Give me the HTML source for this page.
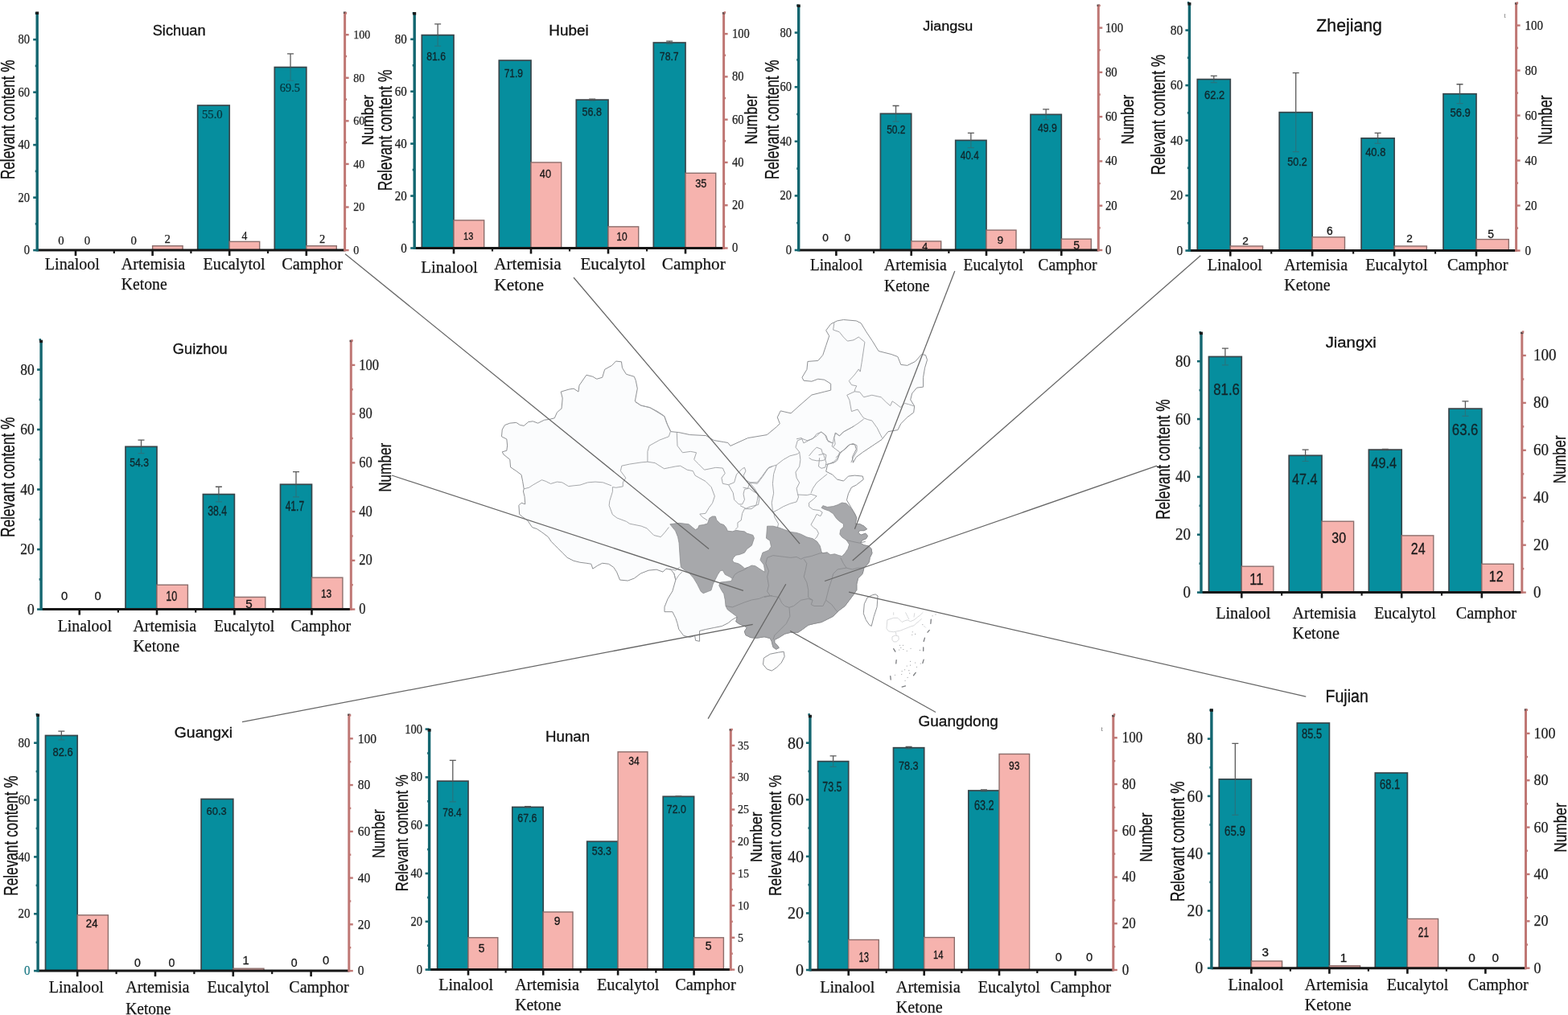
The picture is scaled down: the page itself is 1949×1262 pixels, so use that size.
<!DOCTYPE html><html><head><meta charset="utf-8"><title>Chemotypes of Artemisia argyi across China</title>
<style>html,body{margin:0;padding:0;background:#fff;}svg{display:block;}</style></head><body>
<svg width="1949" height="1262" viewBox="0 0 1949 1262">
<rect width="1949" height="1262" fill="#ffffff"/>
<polygon points="699.16,495.01 697.18,487.09 707.09,484.12 713.03,483.12 718.98,487.09 719.97,479.16 728.88,466.28 736.81,468.26 741.76,471.24 748.7,469.26 751.67,459.35 760.58,454.39 765.54,449.04 772.47,449.84 773.46,457.37 778.42,465.29 788.32,468.26 790.31,473.22 792.29,483.12 789.31,498.98 796.25,503.93 808.14,506.9 818.04,512.85 825.97,517.8 829.93,528.7 833.9,536.62 843.8,537.61 857.67,540.58 877.49,541.58 887.39,547.52 899.28,549.5 904.86,550.49 907.83,554.45 929.63,544.55 953.4,540.58 965.29,530.68 969.26,526.71 966.28,518.79 970.25,510.86 983.12,513.84 993.03,504.92 1008.88,491.05 1024.73,487.09 1032.66,485.11 1032.66,477.18 1024.73,472.23 1016.81,471.24 1008.88,474.21 998.98,473.22 996.99,469.26 1002.94,459.35 1003.93,449.44 1016.81,448.45 1022.75,441.52 1026.71,429.63 1030.68,417.74 1026.71,410.8 1032.66,402.88 1040.58,398.92 1048.51,397.53 1064.36,398.92 1070.31,401.89 1076.25,411.8 1084.17,423.68 1092.1,436.56 1100.03,438.54 1107.95,440.53 1115.88,443.5 1119.84,453.4 1127.77,454.39 1137.67,449.44 1145.6,440.53 1150.55,441.52 1152.53,447.46 1149.56,457.37 1147.58,469.26 1147.58,481.14 1139.65,482.13 1133.71,489.07 1131.73,496.99 1136.68,504.92 1135.69,512.85 1127.77,518.79 1119.84,526.71 1115.88,534.64 1103.99,536.62 1096.06,546.53 1084.17,554.45 1072.29,562.38 1064.36,568.32 1060.4,575.26 1059.41,568.32 1064.36,558.42 1062.38,552.47 1056.44,552.47 1050.49,558.42 1044.55,562.38 1040.58,572.29 1036.62,575.26 1028.7,577.24 1026.71,586.16 1034.64,590.12 1040.58,596.06 1048.51,598.04 1054.45,592.1 1062.38,591.11 1072.29,592.1 1073.28,596.06 1064.36,603 1058.42,605.97 1054.45,613.9 1052.47,621.82 1058.42,631.73 1063.37,640.05 1064.82,644.16 1062.99,651.45 1068.46,651.45 1073.93,654.18 1077.57,657.83 1073.93,659.65 1068.46,659.65 1066.64,662.38 1070.28,665.12 1075.75,663.3 1078.49,666.03 1076.66,669.67 1072.11,671.5 1069.37,675.14 1073.93,677.88 1079.4,678.79 1083.04,682.43 1083.95,687.9 1081.22,693.37 1080.31,698.83 1077.57,702.48 1073.93,706.12 1072.11,713.41 1066.64,718.88 1064.82,726.17 1064.82,733.46 1061.17,738.93 1055.7,746.22 1050.24,753.51 1042.95,758.98 1035.66,766.27 1028.37,769.91 1021.08,773.56 1011.96,775.38 1004.67,777.2 997.38,782.67 991.92,786.31 982.8,786.31 975.51,788.14 968.22,792.69 962.76,795.43 962.76,799.07 966.4,802.72 968.22,805.45 964.58,807.27 960.93,804.54 959.11,797.25 957.29,793.6 950,791.78 940.43,793.33 932.9,792.58 926.88,789.57 925.37,785.05 928.38,780.53 925.37,778.28 919.35,776.02 914.84,773.01 916.34,766.99 909.98,770.58 905.22,774.55 897.3,778.51 887.39,780.49 877.49,782.47 869.56,784.45 869.56,797.33 864.61,796.34 863.62,790.4 857.67,792.38 849.75,790.4 843.8,782.47 841.82,774.55 839.84,768.6 835.88,760.68 825.97,760.68 825.97,754.73 829.93,744.83 835.88,734.92 839.84,721.05 837.86,713.12 833.9,708.17 827.95,707.18 823.99,711.14 816.06,708.17 806.16,709.16 796.25,713.12 788.32,719.07 780.4,722.04 770.49,721.05 766.53,711.14 762.57,705.2 756.62,701.24 748.7,700.25 742.75,703.22 736.81,707.18 734.83,701.24 728.88,700.25 720.96,699.26 713.03,697.27 705.11,693.31 699.16,687.37 693.22,681.42 689.26,677.46 685.29,673.5 681.33,667.55 673.4,661.61 667.46,657.65 661.52,655.66 655.98,647.46 649.64,642.7 645.67,639.53 644.88,628.43 648.05,625.26 652.81,626.84 652.02,617.33 650.43,610.99 651.22,607.82 649.64,598.3 648.05,590.38 641.71,585.62 634.58,580.86 633.78,571.35 625.86,565.01 624.27,561.84 629.82,560.25 630.61,553.91 629.82,545.98 623.48,542.81 624.27,534.09 627.44,528.54 633.78,526.16 641.71,525.37 646.47,528.54 651.22,529.33 656.77,524.58 662.32,523.78 668.66,526.16 676.59,522.2 682.93,521.4 689.28,519.82 692.45,512.68 698,507.93 698.79,500" fill="#fbfcfd" stroke="#8f9194" stroke-width="1" stroke-linejoin="round"/>
<path d="M651.22 607.82 L657.57 606.23 L662.32 603.06 L673.42 596.72 L678.18 598.3 L684.52 601.47 L692.45 599.1 L698.79 599.89 L706.72 604.65 L713.06 603.85 L720.99 603.06 L730.5 599.89 L740.01 599.1 L749.53 599.89 L759.99 603.85 M789.94 500 L797.07 504.28 L807.06 506.42 L817.04 511.41 L825.6 517.12 L828.46 525.68 L833.45 536.38 L831.31 542.8 L819.9 547.08 L807.06 554.22 L804.92 561.35 L804.92 574.19 M761.4 605.58 L765.68 606.29 L774.24 604.87 L774.24 599.87 L777.81 594.16 L771.39 585.6 L772.81 579.18 L782.8 577.04 L797.07 574.9 L804.92 574.19 M761.4 605.58 L761.4 611.29 L757.83 622.7 L757.12 628.41 L761.4 639.82 L767.11 644.1 L778.52 648.38 L782.8 651.23 L797.07 654.09 L804.2 656.94 L812.76 665.5 L821.32 667.64 L827.03 661.22 L831.31 655.51 M804.92 574.19 L814.19 575.62 L825.6 582.75 L832.74 581.32 L839.87 579.9 L845.58 579.18 L854.14 584.18 L861.27 585.6 L864.13 591.31 L876.97 598.44 L884.1 605.58 L888.38 616.99 L885.53 625.55 L881.25 631.26 L876.97 638.39 L869.83 639.11 L872.69 642.67 L879.11 646.95 M841.3 537.81 L842.01 554.22 L848.43 562.78 L858.42 561.35 L865.55 562.78 L862.7 571.34 L868.41 577.04 L875.54 584.18 L889.81 581.32 L898.37 582.04 L901.22 588.46 L896.94 594.16 L898.37 601.3 L905.5 602.73 L912.64 599.87 L915.49 589.88 L922.62 582.75 L925.48 581.32 L926.9 585.6 L924.05 591.31 L926.9 597.02 L932.61 599.87 L941.17 599.87 L946.88 592.74 L954.01 582.75 L960 579.9 M905.5 602.73 L911.21 612.71 L912.64 621.27 L918.34 626.98 L922.62 626.98 L925.48 621.27 L924.05 614.14 L925.48 608.43 L931.18 607.01 L936.89 611.29 L942.6 614.14 L941.17 622.7 L939.74 628.41 L934.04 632.69 L925.48 632.69 L922.62 638.39 L921.2 646.95 L916.92 649.81 L916.92 655.51 L914.06 658.37 M931.89 600.15 L941.4 601.34 L948.53 591.82 L955.67 581.12 L965.18 578.15 L973.5 571.61 L981.82 566.86 L991.34 564.48 L993.71 562.1 L988.96 556.16 L991.34 547.83 L997.28 545.46 L1003.22 547.83 L1010.36 545.46 L1015.11 539.51 L1021.06 537.13 L1027 541.89 L1029.38 549.02 L1035.33 550.81 L1036.51 544.27 L1038.89 538.32 L1043.65 541.89 L1048.4 537.13 L1054.35 533.57 L1061.48 530 M965.18 578.15 L961.61 589.45 L960.42 601.34 L961.61 613.22 L959.23 625.11 L960.42 634.62 L961.61 637 M993.71 562.1 L994.9 571.61 L993.71 579.93 L988.96 587.07 L990.15 594.2 L993.71 600.15 L990.15 607.28 L991.34 613.22 L992.52 617.98 L990.15 623.92 L981.82 626.3 L973.5 629.87 L967.56 633.44 L961.61 636.41 M991.34 615.01 L1003.22 615.6 L1007.98 614.41 L1015.11 616.79 L1011.55 620.36 L1005.6 625.11 L1005.6 629.87 L1010.36 633.44 L1018.68 634.62 M1007.98 613.22 L1010.36 607.28 L1015.11 600.15 L1022.25 594.2 L1028.19 589.45 M1005.6 566.86 L1010.36 560.91 L1015.11 556.16 L1021.06 558.53 L1022.25 563.29 L1027 565.67 L1025.81 571.61 L1021.06 572.8 L1015.11 572.8 L1009.17 571.61 L1005.6 569.23 M1017.49 565.67 L1023.44 564.48 L1027 575.18 L1025.81 581.12 L1021.06 582.31 L1017.49 579.93 L1018.68 569.23 M1035.33 550.81 L1034.14 554.97 L1038.89 558.53 L1043.65 562.1 L1041.27 569.23 L1036.51 573.99 L1031.76 576.37 L1027 577.56 M961.61 636.41 L962.8 642.95 L967.56 651.27 L966.37 656.03 M1018.68 634.62 L1022.25 637 L1019.87 641.76 L1015.11 639.38 L1012.74 644.14 L1007.98 652.46 L1011.55 656.03 L1015.11 658.4 L1017.49 663.16 L1015.11 667.91 L1012.74 670.29 M923.57 606.09 L929.51 607.28 L931.89 600.15 M920 628.68 L927.13 632.25 L933.08 629.87 L942.59 627.49 L943.78 620.36 L941.4 613.22 L937.83 607.28 L931.89 600.15 M1057.91 575.18 L1060.29 569.23 L1065.05 560.91 L1065.05 553.78 L1060.29 551.4 L1054.35 553.78 L1048.4 559.72 L1044.84 563.29 L1038.89 569.23 M1036.9 401.27 L1035.63 410.14 L1043.24 412.68 L1048.31 419.01 L1053.38 424.08 L1060.98 422.82 L1067.32 419.01 L1074.93 425.35 L1073.03 438.03 L1071.13 450.7 L1069.22 462.11 L1067.32 458.94 L1062.25 465.91 L1055.28 473.52 L1058.45 478.59 L1064.79 479.86 L1062.89 483.66 L1062.25 486.83 M1062.25 486.83 L1068.59 487.46 L1073.66 493.8 L1083.8 491.27 L1095.21 493.8 L1101.55 500.14 L1106.62 504.58 L1109.15 498.87 L1112.96 501.41 L1119.29 506.48 L1124.36 501.41 L1129.43 502.67 L1137.04 505.21 M1062.25 486.83 L1052.75 491.27 L1055.91 497.6 L1058.45 511.55 L1066.06 509.01 L1071.13 516.62 L1073.66 519.79 L1078.73 521.69 L1083.8 522.96 L1090.14 531.83 L1096.48 544.51 M1073.66 521.05 L1066.06 526.76 L1055.91 533.1 L1048.31 536.9 L1043.24 541.97 L1038.17 538.17 L1036.9 544.51 L1038.17 552.11 L1035.63 555.91 M990 545.77 L996.34 544.51 L998.87 550.84 L1009.01 545.77 L1015.35 541.97 L1020.42 536.9 L1025.49 540.7 L1028.03 547.04 L1034.37 550.84 M844.79 705.2 L839.84 709.16 L835.88 708.17 L827.95 707.18 M837.86 713.12 L839.84 721.05 L843.8 715.11 L847.77 711.14" fill="none" stroke="#9c9ea1" stroke-width="0.9" stroke-linejoin="round"/>
<polygon points="832.8,651.83 838.06,651.07 844.09,650.32 850.11,651.07 856.13,651.83 860.64,655.59 864.41,658.6 867.42,657.1 868.92,653.33 874.19,652.58 879.46,651.07 881.72,644.3 885.48,642.04 889.25,642.04 890.75,646.56 895.27,651.07 899.78,652.58 902.79,656.34 904.3,660.11 910.32,660.86 914.84,659.35 919.35,660.11 925.37,660.86 928.38,663.12 935.91,665.38 937.42,669.14 935.91,673.65 934.41,678.17 928.38,682.69 925.37,687.2 919.35,689.46 914.84,690.21 911.83,693.22 910.32,696.24 911.83,699.25 917.85,700.75 922.36,703.76 925.37,706.77 929.89,705.27 934.41,703.01 938.92,703.76 943.44,706.77 947.95,709.78 950.96,711.29 949.46,702.26 944.94,696.24 947.95,687.2 955.48,684.19 958.49,679.68 956.99,672.15 952.47,669.14 953.64,654.18 960.93,654.18 968.22,656.01 975.51,658.74 982.8,661.47 990.09,662.38 995.56,664.21 1002.85,667.85 1010.14,669.67 1015.61,673.32 1019.25,678.79 1021.08,686.08 1022.9,687.9 1028.37,686.99 1032.01,689.72 1037.48,688.81 1042.95,690.63 1046.59,691.54 1050.24,687.9 1053.88,682.43 1055.7,676.96 1052.06,671.5 1046.59,667.85 1043.86,664.21 1044.77,658.74 1048.41,655.09 1048.41,651.45 1042.95,647.8 1039.3,644.16 1035.66,638.69 1030.19,635.05 1024.72,633.22 1021.08,631.4 1022.9,628.67 1028.37,630.49 1035.66,629.58 1041.12,627.76 1046.59,625.02 1052.06,625.93 1057.53,631.4 1061.17,636.87 1064.82,644.16 1062.99,651.45 1068.46,651.45 1073.93,654.18 1077.57,657.83 1073.93,659.65 1068.46,659.65 1066.64,662.38 1070.28,665.12 1075.75,663.3 1078.49,666.03 1076.66,669.67 1072.11,671.5 1069.37,675.14 1073.93,677.88 1079.4,678.79 1083.04,682.43 1083.95,687.9 1081.22,693.37 1080.31,698.83 1077.57,702.48 1073.93,706.12 1072.11,713.41 1066.64,718.88 1064.82,726.17 1064.82,733.46 1061.17,738.93 1055.7,746.22 1050.24,753.51 1042.95,758.98 1035.66,766.27 1028.37,769.91 1021.08,773.56 1011.96,775.38 1004.67,777.2 997.38,782.67 991.92,786.31 982.8,786.31 975.51,788.14 968.22,792.69 962.76,795.43 962.76,799.07 966.4,802.72 968.22,805.45 964.58,807.27 960.93,804.54 959.11,797.25 957.29,793.6 950,791.78 940.43,793.33 932.9,792.58 926.88,789.57 925.37,785.05 928.38,780.53 925.37,778.28 919.35,776.02 914.84,773.01 916.34,766.99 910.32,762.47 904.3,757.95 902.04,753.44 901.29,745.91 899.78,738.38 896.77,733.87 893.76,727.85 895.27,724.08 901.29,723.33 908.82,722.58 910.32,719.57 907.31,717.31 901.29,714.3 898.28,709.03 895.27,709.78 892.26,714.3 889.25,720.32 886.24,726.34 883.98,733.87 880.21,735.37 874.19,737.63 871.18,735.37 866.67,726.34 862.15,718.82 856.13,712.04 850.11,708.28 846.34,705.27 845.59,697.74 844.84,687.2 844.09,675.16 842.58,667.63 839.57,660.11" fill="#a7a8ab" stroke="#8a8b8e" stroke-width="0.8" stroke-linejoin="round"/>
<path d="M953.64 693.37 L960.93 690.63 L968.22 691.54 L975.51 692.46 L982.8 693.37 L990.09 692.46 L995.56 695.19 L999.21 693.37 M999.21 693.37 L1008.32 691.54 L1019.25 687.9 L1028.37 686.99 M999.21 695.19 L1002.85 700.66 L1001.03 709.77 L999.21 717.06 L1002.85 724.35 L1004.67 733.46 L1004.67 742.57 L1010.14 746.22 L1008.32 751.69 L1011.96 753.51 L1022.9 753.51 L1026.54 746.22 M1044.77 693.37 L1048.41 700.66 L1052.06 706.12 L1041.12 707.95 L1035.66 713.41 L1033.83 720.7 L1030.19 731.64 L1028.37 738.93 L1026.54 746.22 M1052.06 706.12 L1059.35 707.95 L1066.64 706.12 L1073.93 706.12 M1052.06 671.5 L1059.35 673.32 L1068.46 675.14 L1075.75 673.32 M1026.54 746.22 L1033.83 751.69 L1039.3 758.98 L1041.12 760.8 M980.98 755.33 L986.45 753.51 L995.56 746.22 L1004.67 744.4 L1010.14 746.22 M980.98 755.33 L981.89 766.27 L977.34 775.38 L970.05 782.67 L962.76 789.96 L960.93 795.43 M980.98 755.33 L975.51 753.51 L971.87 749.86 L968.22 742.57 L957.29 740.75 L950 742.57 M953.64 693.37 L951.82 700.66 L955.47 709.77 L953.64 717.06 L955.47 727.99 L953.64 735.28 L957.29 740.75 M910.32 719.57 L913.33 714.3 L917.85 711.29 L925.37 708.28 L929.89 705.27 M902.04 753.44 L910.32 754.94 L917.85 751.93 L925.37 748.92 L934.41 745.91 L943.44 744.41 L950.96 741.4 L960 740.64" fill="none" stroke="#8a8b8e" stroke-width="0.9" stroke-linejoin="round"/>
<polygon points="1088.1,738.9 1091.1,740.9 1090.1,754.7 1086.2,766.6 1083.2,778.5 1080.2,776.5 1076.3,770.6 1073.3,762.7 1074.3,750.8 1078.2,742.8 1084.2,739.9" fill="#fdfdfd" stroke="#8f9194" stroke-width="1"/>
<polygon points="949.4,818.1 957.4,813.2 967.3,811.2 974.2,810.2 975.2,816.2 971.2,824.1 965.3,830 959.3,834 953.4,832 948.5,826.1" fill="#fdfdfd" stroke="#8f9194" stroke-width="1"/>
<path d="M1102.84 770.92 L1110.69 768.3 L1115.92 768.3 L1118.53 770.92 L1121.14 773.53 L1124.63 771.79 L1128.12 770.92 L1131.6 772.66 L1135.96 770.92 L1140.32 767.43 L1143.8 764.81 L1147.29 761.33 M1102.84 770.92 L1101.97 781.37 L1104.59 784.86 L1110.69 785.73 L1115.04 784.86 L1119.4 783.99 L1123.76 782.24 L1128.12 780.5 L1132.47 778.76 L1135.96 777.89 L1138.57 775.27 L1142.06 772.66 L1145.54 769.17 M1108.94 791.83 L1112.43 790.09 L1116.79 790.96 L1117.22 795.32 L1114.17 797.93 L1110.69 797.93 L1108.94 795.32 L1108.94 791.83 M1113.3 785.73 L1114.17 790.09 M1110.69 761.33 L1110.69 764.81 M1125.5 761.33 L1128.12 766.56 L1129.86 770.04 M1136.83 762.2 L1135.96 767.43 M1148.16 777.89 L1150.77 780.5" fill="none" stroke="#d4d5d7" stroke-width="0.9" stroke-linejoin="round"/>
<path d="M1157.31 770.04 L1156.87 775.27 M1155.13 783.55 L1152.95 786.17 M1149.47 793.14 L1148.16 797.49 M1147.72 804.9 L1147.72 809.26 M1148.16 820.15 L1146.85 824.51 M1138.14 836.27 L1135.52 839.76 M1125.5 852.83 L1121.14 854.14 M1110.69 806.64 L1112.86 810.13 M1114.17 820.59 L1113.74 824.95 M1106.76 840.63 L1107.2 844.99" fill="none" stroke="#7b7d80" stroke-width="1.3" stroke-linecap="round"/>
<circle cx="1134.22" cy="785.73" r="0.55" fill="#8d8f92"/>
<circle cx="1137.7" cy="788.34" r="0.55" fill="#8d8f92"/>
<circle cx="1133.78" cy="789.22" r="0.55" fill="#8d8f92"/>
<circle cx="1118.53" cy="802.29" r="0.55" fill="#8d8f92"/>
<circle cx="1122.45" cy="802.29" r="0.55" fill="#8d8f92"/>
<circle cx="1119.84" cy="805.34" r="0.55" fill="#8d8f92"/>
<circle cx="1117.66" cy="807.95" r="0.55" fill="#8d8f92"/>
<circle cx="1122.89" cy="807.52" r="0.55" fill="#8d8f92"/>
<circle cx="1127.24" cy="809.26" r="0.55" fill="#8d8f92"/>
<circle cx="1132.04" cy="806.21" r="0.55" fill="#8d8f92"/>
<circle cx="1143.37" cy="808.39" r="0.55" fill="#8d8f92"/>
<circle cx="1146.85" cy="776.58" r="0.55" fill="#8d8f92"/>
<circle cx="1131.6" cy="822.33" r="0.55" fill="#8d8f92"/>
<circle cx="1137.7" cy="824.07" r="0.55" fill="#8d8f92"/>
<circle cx="1144.24" cy="824.95" r="0.55" fill="#8d8f92"/>
<circle cx="1127.24" cy="828" r="0.55" fill="#8d8f92"/>
<circle cx="1131.6" cy="827.12" r="0.55" fill="#8d8f92"/>
<circle cx="1139.44" cy="829.3" r="0.55" fill="#8d8f92"/>
<circle cx="1121.14" cy="834.53" r="0.55" fill="#8d8f92"/>
<circle cx="1124.63" cy="832.79" r="0.55" fill="#8d8f92"/>
<circle cx="1129.86" cy="833.66" r="0.55" fill="#8d8f92"/>
<circle cx="1120.71" cy="838.45" r="0.55" fill="#8d8f92"/>
<circle cx="1130.73" cy="837.15" r="0.55" fill="#8d8f92"/>
<circle cx="1112.43" cy="839.32" r="0.55" fill="#8d8f92"/>
<circle cx="1128.12" cy="842.37" r="0.55" fill="#8d8f92"/>
<circle cx="1125.07" cy="846.3" r="0.55" fill="#8d8f92"/>
<circle cx="1162.97" cy="763.94" r="0.55" fill="#8d8f92"/>
<circle cx="1159.05" cy="765.69" r="0.55" fill="#8d8f92"/>
<text x="1869.3" y="22" font-family="'Liberation Serif', 'Times New Roman', serif" font-size="9" fill="#777">t</text>
<text x="1368.5" y="909" font-family="'Liberation Serif', 'Times New Roman', serif" font-size="9" fill="#777">t</text>
<g>
<rect x="189.6" y="305.74" width="37.5" height="5.36" fill="#f6b3ae" stroke="#8c6e6c" stroke-width="1.4"/>
<rect x="245.7" y="131.04" width="39.5" height="180.06" fill="#068e9e" stroke="#38454a" stroke-width="1.7"/>
<rect x="285.2" y="300.38" width="37.5" height="10.72" fill="#f6b3ae" stroke="#8c6e6c" stroke-width="1.4"/>
<rect x="341.3" y="83.57" width="39.5" height="227.53" fill="#068e9e" stroke="#38454a" stroke-width="1.7"/>
<rect x="380.8" y="305.74" width="37.5" height="5.36" fill="#f6b3ae" stroke="#8c6e6c" stroke-width="1.4"/>
<path d="M361.05 66.88V83.57M357.05 66.88H365.05" stroke="#5a5a5a" stroke-width="1.3" fill="none"/>
<path d="M361.05 83.57V100.27M357.05 100.27H365.05" stroke="#4d5658" stroke-width="1.2" fill="none" opacity="0.45"/>
<line x1="46.2" y1="311.1" x2="428.6" y2="311.1" stroke="#161616" stroke-width="3"/>
<line x1="94" y1="311.1" x2="94" y2="318.1" stroke="#161616" stroke-width="2.6"/>
<line x1="189.6" y1="311.1" x2="189.6" y2="318.1" stroke="#161616" stroke-width="2.6"/>
<line x1="285.2" y1="311.1" x2="285.2" y2="318.1" stroke="#161616" stroke-width="2.6"/>
<line x1="380.8" y1="311.1" x2="380.8" y2="318.1" stroke="#161616" stroke-width="2.6"/>
<line x1="141.8" y1="311.1" x2="141.8" y2="315.1" stroke="#161616" stroke-width="2.2"/>
<line x1="237.4" y1="311.1" x2="237.4" y2="315.1" stroke="#161616" stroke-width="2.2"/>
<line x1="333" y1="311.1" x2="333" y2="315.1" stroke="#161616" stroke-width="2.2"/>
<line x1="46.2" y1="15" x2="46.2" y2="312.6" stroke="#136670" stroke-width="3.4"/>
<line x1="41.2" y1="311.1" x2="46.2" y2="311.1" stroke="#136670" stroke-width="2.6"/>
<text x="37.1" y="316.04" font-family="'Liberation Serif', 'Times New Roman', serif" font-size="15.95" fill="#1c1c1c" text-anchor="end" textLength="7.25" lengthAdjust="spacingAndGlyphs" stroke="#1c1c1c" stroke-width="0.25">0</text>
<line x1="43.7" y1="278.36" x2="46.2" y2="278.36" stroke="#136670" stroke-width="2.6"/>
<line x1="41.2" y1="245.62" x2="46.2" y2="245.62" stroke="#136670" stroke-width="2.6"/>
<text x="37.1" y="250.57" font-family="'Liberation Serif', 'Times New Roman', serif" font-size="15.95" fill="#1c1c1c" text-anchor="end" textLength="14.5" lengthAdjust="spacingAndGlyphs" stroke="#1c1c1c" stroke-width="0.25">20</text>
<line x1="43.7" y1="212.89" x2="46.2" y2="212.89" stroke="#136670" stroke-width="2.6"/>
<line x1="41.2" y1="180.15" x2="46.2" y2="180.15" stroke="#136670" stroke-width="2.6"/>
<text x="37.1" y="185.09" font-family="'Liberation Serif', 'Times New Roman', serif" font-size="15.95" fill="#1c1c1c" text-anchor="end" textLength="14.5" lengthAdjust="spacingAndGlyphs" stroke="#1c1c1c" stroke-width="0.25">40</text>
<line x1="43.7" y1="147.41" x2="46.2" y2="147.41" stroke="#136670" stroke-width="2.6"/>
<line x1="41.2" y1="114.67" x2="46.2" y2="114.67" stroke="#136670" stroke-width="2.6"/>
<text x="37.1" y="119.62" font-family="'Liberation Serif', 'Times New Roman', serif" font-size="15.95" fill="#1c1c1c" text-anchor="end" textLength="14.5" lengthAdjust="spacingAndGlyphs" stroke="#1c1c1c" stroke-width="0.25">60</text>
<line x1="43.7" y1="81.94" x2="46.2" y2="81.94" stroke="#136670" stroke-width="2.6"/>
<line x1="41.2" y1="49.2" x2="46.2" y2="49.2" stroke="#136670" stroke-width="2.6"/>
<text x="37.1" y="54.14" font-family="'Liberation Serif', 'Times New Roman', serif" font-size="15.95" fill="#1c1c1c" text-anchor="end" textLength="14.5" lengthAdjust="spacingAndGlyphs" stroke="#1c1c1c" stroke-width="0.25">80</text>
<line x1="43.7" y1="16.46" x2="46.2" y2="16.46" stroke="#136670" stroke-width="2.6"/>
<rect x="44.2" y="14.5" width="4" height="3.5" fill="#1a1a1a"/>
<line x1="428.6" y1="15" x2="428.6" y2="312.6" stroke="#bf7774" stroke-width="3"/>
<rect x="426.9" y="14.5" width="3.4" height="2.5" fill="#5a4a4a"/>
<line x1="428.6" y1="311.1" x2="433.6" y2="311.1" stroke="#bf7774" stroke-width="2.4"/>
<text x="439.3" y="315.87" font-family="'Liberation Serif', 'Times New Roman', serif" font-size="15.4" fill="#1c1c1c" text-anchor="start" textLength="7" lengthAdjust="spacingAndGlyphs" stroke="#1c1c1c" stroke-width="0.25">0</text>
<line x1="428.6" y1="284.31" x2="431.1" y2="284.31" stroke="#bf7774" stroke-width="2.4"/>
<line x1="428.6" y1="257.52" x2="433.6" y2="257.52" stroke="#bf7774" stroke-width="2.4"/>
<text x="439.3" y="262.29" font-family="'Liberation Serif', 'Times New Roman', serif" font-size="15.4" fill="#1c1c1c" text-anchor="start" textLength="14" lengthAdjust="spacingAndGlyphs" stroke="#1c1c1c" stroke-width="0.25">20</text>
<line x1="428.6" y1="230.73" x2="431.1" y2="230.73" stroke="#bf7774" stroke-width="2.4"/>
<line x1="428.6" y1="203.94" x2="433.6" y2="203.94" stroke="#bf7774" stroke-width="2.4"/>
<text x="439.3" y="208.71" font-family="'Liberation Serif', 'Times New Roman', serif" font-size="15.4" fill="#1c1c1c" text-anchor="start" textLength="14" lengthAdjust="spacingAndGlyphs" stroke="#1c1c1c" stroke-width="0.25">40</text>
<line x1="428.6" y1="177.15" x2="431.1" y2="177.15" stroke="#bf7774" stroke-width="2.4"/>
<line x1="428.6" y1="150.36" x2="433.6" y2="150.36" stroke="#bf7774" stroke-width="2.4"/>
<text x="439.3" y="155.13" font-family="'Liberation Serif', 'Times New Roman', serif" font-size="15.4" fill="#1c1c1c" text-anchor="start" textLength="14" lengthAdjust="spacingAndGlyphs" stroke="#1c1c1c" stroke-width="0.25">60</text>
<line x1="428.6" y1="123.57" x2="431.1" y2="123.57" stroke="#bf7774" stroke-width="2.4"/>
<line x1="428.6" y1="96.78" x2="433.6" y2="96.78" stroke="#bf7774" stroke-width="2.4"/>
<text x="439.3" y="101.55" font-family="'Liberation Serif', 'Times New Roman', serif" font-size="15.4" fill="#1c1c1c" text-anchor="start" textLength="14" lengthAdjust="spacingAndGlyphs" stroke="#1c1c1c" stroke-width="0.25">80</text>
<line x1="428.6" y1="69.99" x2="431.1" y2="69.99" stroke="#bf7774" stroke-width="2.4"/>
<line x1="428.6" y1="43.2" x2="433.6" y2="43.2" stroke="#bf7774" stroke-width="2.4"/>
<text x="439.3" y="47.97" font-family="'Liberation Serif', 'Times New Roman', serif" font-size="15.4" fill="#1c1c1c" text-anchor="start" textLength="21" lengthAdjust="spacingAndGlyphs" stroke="#1c1c1c" stroke-width="0.25">100</text>
<line x1="428.6" y1="16.41" x2="431.1" y2="16.41" stroke="#bf7774" stroke-width="2.4"/>
<text x="55.85" y="335.3" font-family="'Liberation Serif', 'Times New Roman', serif" font-size="21.6" fill="#141414" textLength="68.1" lengthAdjust="spacingAndGlyphs" stroke="#141414" stroke-width="0.25">Linalool</text>
<text x="150.75" y="335.3" font-family="'Liberation Serif', 'Times New Roman', serif" font-size="21.6" fill="#141414" textLength="79.5" lengthAdjust="spacingAndGlyphs" stroke="#141414" stroke-width="0.25">Artemisia</text>
<text x="150.75" y="359.7" font-family="'Liberation Serif', 'Times New Roman', serif" font-size="21.6" fill="#141414" textLength="56.9" lengthAdjust="spacingAndGlyphs" stroke="#141414" stroke-width="0.25">Ketone</text>
<text x="252.55" y="335.3" font-family="'Liberation Serif', 'Times New Roman', serif" font-size="21.6" fill="#141414" textLength="77.1" lengthAdjust="spacingAndGlyphs" stroke="#141414" stroke-width="0.25">Eucalytol</text>
<text x="350.15" y="335.3" font-family="'Liberation Serif', 'Times New Roman', serif" font-size="21.6" fill="#141414" textLength="75.9" lengthAdjust="spacingAndGlyphs" stroke="#141414" stroke-width="0.25">Camphor</text>
<text x="189.65" y="43.7" font-family="'Liberation Sans', Arial, sans-serif" font-size="18.02" fill="#111" textLength="66" lengthAdjust="spacingAndGlyphs" stroke="#111" stroke-width="0.3">Sichuan</text>
<text x="76" y="303.6" font-family="'Liberation Serif', 'Times New Roman', serif" font-size="14.79" fill="#1c1c1c" text-anchor="middle" stroke="#1c1c1c" stroke-width="0.25">0</text>
<text x="108.4" y="303.6" font-family="'Liberation Serif', 'Times New Roman', serif" font-size="14.79" fill="#1c1c1c" text-anchor="middle" stroke="#1c1c1c" stroke-width="0.25">0</text>
<text x="166.3" y="303.6" font-family="'Liberation Serif', 'Times New Roman', serif" font-size="14.79" fill="#1c1c1c" text-anchor="middle" stroke="#1c1c1c" stroke-width="0.25">0</text>
<text x="208.2" y="302.4" font-family="'Liberation Serif', 'Times New Roman', serif" font-size="14.79" fill="#1c1c1c" text-anchor="middle" stroke="#1c1c1c" stroke-width="0.25">2</text>
<text x="250.95" y="146.7" font-family="'Liberation Serif', 'Times New Roman', serif" font-size="15.38" fill="#07343c" textLength="25.8" lengthAdjust="spacingAndGlyphs" stroke="#07343c" stroke-width="0.25">55.0</text>
<text x="303.9" y="297.7" font-family="'Liberation Serif', 'Times New Roman', serif" font-size="13.76" fill="#1c1c1c" text-anchor="middle" stroke="#1c1c1c" stroke-width="0.25">4</text>
<text x="347.85" y="114" font-family="'Liberation Serif', 'Times New Roman', serif" font-size="14.79" fill="#07343c" textLength="25.1" lengthAdjust="spacingAndGlyphs" stroke="#07343c" stroke-width="0.25">69.5</text>
<text x="400.7" y="302.1" font-family="'Liberation Serif', 'Times New Roman', serif" font-size="14.5" fill="#1c1c1c" text-anchor="middle" stroke="#1c1c1c" stroke-width="0.25">2</text>
<text x="0" y="0" transform="translate(17.8 223.1) rotate(-90)" font-family="'Liberation Sans', Arial, sans-serif" font-size="23.74" fill="#111" textLength="148.7" lengthAdjust="spacingAndGlyphs" stroke="#111" stroke-width="0.3">Relevant content %</text>
<text x="0" y="0" transform="translate(463.5 180.4) rotate(-90)" font-family="'Liberation Sans', Arial, sans-serif" font-size="19.69" fill="#111" textLength="62.6" lengthAdjust="spacingAndGlyphs" stroke="#111" stroke-width="0.3">Number</text>
</g>
<g>
<rect x="524.3" y="43.61" width="39.7" height="264.89" fill="#068e9e" stroke="#38454a" stroke-width="1.7"/>
<rect x="564" y="273.87" width="37.7" height="34.63" fill="#f6b3ae" stroke="#8c6e6c" stroke-width="1.4"/>
<rect x="620.3" y="75.09" width="39.7" height="233.41" fill="#068e9e" stroke="#38454a" stroke-width="1.7"/>
<rect x="660" y="201.94" width="37.7" height="106.56" fill="#f6b3ae" stroke="#8c6e6c" stroke-width="1.4"/>
<rect x="716.3" y="124.11" width="39.7" height="184.39" fill="#068e9e" stroke="#38454a" stroke-width="1.7"/>
<rect x="756" y="281.86" width="37.7" height="26.64" fill="#f6b3ae" stroke="#8c6e6c" stroke-width="1.4"/>
<rect x="812.3" y="53.02" width="39.7" height="255.48" fill="#068e9e" stroke="#38454a" stroke-width="1.7"/>
<rect x="852" y="215.26" width="37.7" height="93.24" fill="#f6b3ae" stroke="#8c6e6c" stroke-width="1.4"/>
<path d="M544.15 29.97V43.61M540.15 29.97H548.15" stroke="#5a5a5a" stroke-width="1.3" fill="none"/>
<path d="M544.15 43.61V57.24M540.15 57.24H548.15" stroke="#4d5658" stroke-width="1.2" fill="none" opacity="0.45"/>
<path d="M736.15 123.14V124.11M732.15 123.14H740.15" stroke="#5a5a5a" stroke-width="1.3" fill="none"/>
<path d="M736.15 124.11V125.09M732.15 125.09H740.15" stroke="#4d5658" stroke-width="1.2" fill="none" opacity="0.45"/>
<path d="M832.15 51.07V53.02M828.15 51.07H836.15" stroke="#5a5a5a" stroke-width="1.3" fill="none"/>
<path d="M832.15 53.02V54.97M828.15 54.97H836.15" stroke="#4d5658" stroke-width="1.2" fill="none" opacity="0.45"/>
<line x1="515.2" y1="308.5" x2="899.6" y2="308.5" stroke="#161616" stroke-width="3"/>
<line x1="564" y1="308.5" x2="564" y2="315.5" stroke="#161616" stroke-width="2.6"/>
<line x1="660" y1="308.5" x2="660" y2="315.5" stroke="#161616" stroke-width="2.6"/>
<line x1="756" y1="308.5" x2="756" y2="315.5" stroke="#161616" stroke-width="2.6"/>
<line x1="852" y1="308.5" x2="852" y2="315.5" stroke="#161616" stroke-width="2.6"/>
<line x1="612" y1="308.5" x2="612" y2="312.5" stroke="#161616" stroke-width="2.2"/>
<line x1="708" y1="308.5" x2="708" y2="312.5" stroke="#161616" stroke-width="2.2"/>
<line x1="804" y1="308.5" x2="804" y2="312.5" stroke="#161616" stroke-width="2.2"/>
<line x1="515.2" y1="15.6" x2="515.2" y2="310" stroke="#136670" stroke-width="3.4"/>
<line x1="510.2" y1="308.5" x2="515.2" y2="308.5" stroke="#136670" stroke-width="2.6"/>
<text x="505.7" y="313.62" font-family="'Liberation Serif', 'Times New Roman', serif" font-size="16.5" fill="#1c1c1c" text-anchor="end" textLength="7.5" lengthAdjust="spacingAndGlyphs" stroke="#1c1c1c" stroke-width="0.25">0</text>
<line x1="512.7" y1="276.04" x2="515.2" y2="276.04" stroke="#136670" stroke-width="2.6"/>
<line x1="510.2" y1="243.57" x2="515.2" y2="243.57" stroke="#136670" stroke-width="2.6"/>
<text x="505.7" y="248.69" font-family="'Liberation Serif', 'Times New Roman', serif" font-size="16.5" fill="#1c1c1c" text-anchor="end" textLength="15" lengthAdjust="spacingAndGlyphs" stroke="#1c1c1c" stroke-width="0.25">20</text>
<line x1="512.7" y1="211.11" x2="515.2" y2="211.11" stroke="#136670" stroke-width="2.6"/>
<line x1="510.2" y1="178.65" x2="515.2" y2="178.65" stroke="#136670" stroke-width="2.6"/>
<text x="505.7" y="183.77" font-family="'Liberation Serif', 'Times New Roman', serif" font-size="16.5" fill="#1c1c1c" text-anchor="end" textLength="15" lengthAdjust="spacingAndGlyphs" stroke="#1c1c1c" stroke-width="0.25">40</text>
<line x1="512.7" y1="146.19" x2="515.2" y2="146.19" stroke="#136670" stroke-width="2.6"/>
<line x1="510.2" y1="113.73" x2="515.2" y2="113.73" stroke="#136670" stroke-width="2.6"/>
<text x="505.7" y="118.84" font-family="'Liberation Serif', 'Times New Roman', serif" font-size="16.5" fill="#1c1c1c" text-anchor="end" textLength="15" lengthAdjust="spacingAndGlyphs" stroke="#1c1c1c" stroke-width="0.25">60</text>
<line x1="512.7" y1="81.26" x2="515.2" y2="81.26" stroke="#136670" stroke-width="2.6"/>
<line x1="510.2" y1="48.8" x2="515.2" y2="48.8" stroke="#136670" stroke-width="2.6"/>
<text x="505.7" y="53.92" font-family="'Liberation Serif', 'Times New Roman', serif" font-size="16.5" fill="#1c1c1c" text-anchor="end" textLength="15" lengthAdjust="spacingAndGlyphs" stroke="#1c1c1c" stroke-width="0.25">80</text>
<line x1="512.7" y1="16.34" x2="515.2" y2="16.34" stroke="#136670" stroke-width="2.6"/>
<rect x="513.2" y="15.1" width="4" height="3.5" fill="#1a1a1a"/>
<line x1="899.6" y1="15.6" x2="899.6" y2="310" stroke="#bf7774" stroke-width="3"/>
<rect x="897.9" y="15.1" width="3.4" height="2.5" fill="#5a4a4a"/>
<line x1="899.6" y1="308.5" x2="904.6" y2="308.5" stroke="#bf7774" stroke-width="2.4"/>
<text x="910.1" y="313.44" font-family="'Liberation Serif', 'Times New Roman', serif" font-size="15.95" fill="#1c1c1c" text-anchor="start" textLength="7.25" lengthAdjust="spacingAndGlyphs" stroke="#1c1c1c" stroke-width="0.25">0</text>
<line x1="899.6" y1="281.86" x2="902.1" y2="281.86" stroke="#bf7774" stroke-width="2.4"/>
<line x1="899.6" y1="255.22" x2="904.6" y2="255.22" stroke="#bf7774" stroke-width="2.4"/>
<text x="910.1" y="260.16" font-family="'Liberation Serif', 'Times New Roman', serif" font-size="15.95" fill="#1c1c1c" text-anchor="start" textLength="14.5" lengthAdjust="spacingAndGlyphs" stroke="#1c1c1c" stroke-width="0.25">20</text>
<line x1="899.6" y1="228.58" x2="902.1" y2="228.58" stroke="#bf7774" stroke-width="2.4"/>
<line x1="899.6" y1="201.94" x2="904.6" y2="201.94" stroke="#bf7774" stroke-width="2.4"/>
<text x="910.1" y="206.88" font-family="'Liberation Serif', 'Times New Roman', serif" font-size="15.95" fill="#1c1c1c" text-anchor="start" textLength="14.5" lengthAdjust="spacingAndGlyphs" stroke="#1c1c1c" stroke-width="0.25">40</text>
<line x1="899.6" y1="175.3" x2="902.1" y2="175.3" stroke="#bf7774" stroke-width="2.4"/>
<line x1="899.6" y1="148.66" x2="904.6" y2="148.66" stroke="#bf7774" stroke-width="2.4"/>
<text x="910.1" y="153.6" font-family="'Liberation Serif', 'Times New Roman', serif" font-size="15.95" fill="#1c1c1c" text-anchor="start" textLength="14.5" lengthAdjust="spacingAndGlyphs" stroke="#1c1c1c" stroke-width="0.25">60</text>
<line x1="899.6" y1="122.02" x2="902.1" y2="122.02" stroke="#bf7774" stroke-width="2.4"/>
<line x1="899.6" y1="95.38" x2="904.6" y2="95.38" stroke="#bf7774" stroke-width="2.4"/>
<text x="910.1" y="100.32" font-family="'Liberation Serif', 'Times New Roman', serif" font-size="15.95" fill="#1c1c1c" text-anchor="start" textLength="14.5" lengthAdjust="spacingAndGlyphs" stroke="#1c1c1c" stroke-width="0.25">80</text>
<line x1="899.6" y1="68.74" x2="902.1" y2="68.74" stroke="#bf7774" stroke-width="2.4"/>
<line x1="899.6" y1="42.1" x2="904.6" y2="42.1" stroke="#bf7774" stroke-width="2.4"/>
<text x="910.1" y="47.04" font-family="'Liberation Serif', 'Times New Roman', serif" font-size="15.95" fill="#1c1c1c" text-anchor="start" textLength="21.75" lengthAdjust="spacingAndGlyphs" stroke="#1c1c1c" stroke-width="0.25">100</text>
<line x1="899.6" y1="15.46" x2="902.1" y2="15.46" stroke="#bf7774" stroke-width="2.4"/>
<text x="523.35" y="338.6" font-family="'Liberation Serif', 'Times New Roman', serif" font-size="21.6" fill="#141414" textLength="70.5" lengthAdjust="spacingAndGlyphs" stroke="#141414" stroke-width="0.25">Linalool</text>
<text x="614.25" y="335.3" font-family="'Liberation Serif', 'Times New Roman', serif" font-size="21.6" fill="#141414" textLength="83.4" lengthAdjust="spacingAndGlyphs" stroke="#141414" stroke-width="0.25">Artemisia</text>
<text x="614.25" y="360.7" font-family="'Liberation Serif', 'Times New Roman', serif" font-size="21.6" fill="#141414" textLength="61.7" lengthAdjust="spacingAndGlyphs" stroke="#141414" stroke-width="0.25">Ketone</text>
<text x="721.45" y="335.3" font-family="'Liberation Serif', 'Times New Roman', serif" font-size="21.6" fill="#141414" textLength="81" lengthAdjust="spacingAndGlyphs" stroke="#141414" stroke-width="0.25">Eucalytol</text>
<text x="822.85" y="335.3" font-family="'Liberation Serif', 'Times New Roman', serif" font-size="21.6" fill="#141414" textLength="78.9" lengthAdjust="spacingAndGlyphs" stroke="#141414" stroke-width="0.25">Camphor</text>
<text x="682.35" y="43.6" font-family="'Liberation Sans', Arial, sans-serif" font-size="18.02" fill="#111" textLength="49.3" lengthAdjust="spacingAndGlyphs" stroke="#111" stroke-width="0.3">Hubei</text>
<text x="530.25" y="74.7" font-family="'Liberation Sans', Arial, sans-serif" font-size="14.66" fill="#10262b" textLength="23.8" lengthAdjust="spacingAndGlyphs" stroke="#10262b" stroke-width="0.3">81.6</text>
<text x="626.65" y="96.3" font-family="'Liberation Sans', Arial, sans-serif" font-size="14.53" fill="#10262b" textLength="23.4" lengthAdjust="spacingAndGlyphs" stroke="#10262b" stroke-width="0.3">71.9</text>
<text x="723.55" y="143.9" font-family="'Liberation Sans', Arial, sans-serif" font-size="15.08" fill="#10262b" textLength="24.4" lengthAdjust="spacingAndGlyphs" stroke="#10262b" stroke-width="0.3">56.8</text>
<text x="819.85" y="74.7" font-family="'Liberation Sans', Arial, sans-serif" font-size="14.66" fill="#10262b" textLength="23.8" lengthAdjust="spacingAndGlyphs" stroke="#10262b" stroke-width="0.3">78.7</text>
<text x="576.05" y="298.4" font-family="'Liberation Sans', Arial, sans-serif" font-size="13.69" fill="#161616" textLength="12.3" lengthAdjust="spacingAndGlyphs" stroke="#161616" stroke-width="0.3">13</text>
<text x="670.85" y="220.7" font-family="'Liberation Sans', Arial, sans-serif" font-size="15.08" fill="#161616" textLength="14.2" lengthAdjust="spacingAndGlyphs" stroke="#161616" stroke-width="0.3">40</text>
<text x="766.25" y="298.9" font-family="'Liberation Sans', Arial, sans-serif" font-size="14.53" fill="#161616" textLength="13.3" lengthAdjust="spacingAndGlyphs" stroke="#161616" stroke-width="0.3">10</text>
<text x="864.15" y="232.7" font-family="'Liberation Sans', Arial, sans-serif" font-size="14.53" fill="#161616" textLength="14.1" lengthAdjust="spacingAndGlyphs" stroke="#161616" stroke-width="0.3">35</text>
<text x="0" y="0" transform="translate(487 237.3) rotate(-90)" font-family="'Liberation Sans', Arial, sans-serif" font-size="24.72" fill="#111" textLength="150.8" lengthAdjust="spacingAndGlyphs" stroke="#111" stroke-width="0.3">Relevant content %</text>
<text x="0" y="0" transform="translate(941.4 179.6) rotate(-90)" font-family="'Liberation Sans', Arial, sans-serif" font-size="22.77" fill="#111" textLength="62.5" lengthAdjust="spacingAndGlyphs" stroke="#111" stroke-width="0.3">Number</text>
</g>
<g>
<rect x="1094.4" y="141.32" width="38.3" height="169.68" fill="#068e9e" stroke="#38454a" stroke-width="1.7"/>
<rect x="1132.7" y="299.94" width="37" height="11.06" fill="#f6b3ae" stroke="#8c6e6c" stroke-width="1.4"/>
<rect x="1187.7" y="174.45" width="38.3" height="136.55" fill="#068e9e" stroke="#38454a" stroke-width="1.7"/>
<rect x="1226" y="286.12" width="37" height="24.88" fill="#f6b3ae" stroke="#8c6e6c" stroke-width="1.4"/>
<rect x="1281" y="142.34" width="38.3" height="168.66" fill="#068e9e" stroke="#38454a" stroke-width="1.7"/>
<rect x="1319.3" y="297.18" width="37" height="13.82" fill="#f6b3ae" stroke="#8c6e6c" stroke-width="1.4"/>
<path d="M1113.55 131.52V141.32M1109.55 131.52H1117.55" stroke="#5a5a5a" stroke-width="1.3" fill="none"/>
<path d="M1113.55 141.32V151.13M1109.55 151.13H1117.55" stroke="#4d5658" stroke-width="1.2" fill="none" opacity="0.45"/>
<path d="M1206.85 165.32V174.45M1202.85 165.32H1210.85" stroke="#5a5a5a" stroke-width="1.3" fill="none"/>
<path d="M1206.85 174.45V183.57M1202.85 183.57H1210.85" stroke="#4d5658" stroke-width="1.2" fill="none" opacity="0.45"/>
<path d="M1300.15 135.92V142.34M1296.15 135.92H1304.15" stroke="#5a5a5a" stroke-width="1.3" fill="none"/>
<path d="M1300.15 142.34V148.76M1296.15 148.76H1304.15" stroke="#4d5658" stroke-width="1.2" fill="none" opacity="0.45"/>
<line x1="992.7" y1="311" x2="1365.3" y2="311" stroke="#161616" stroke-width="3"/>
<line x1="1039.4" y1="311" x2="1039.4" y2="318" stroke="#161616" stroke-width="2.6"/>
<line x1="1132.7" y1="311" x2="1132.7" y2="318" stroke="#161616" stroke-width="2.6"/>
<line x1="1226" y1="311" x2="1226" y2="318" stroke="#161616" stroke-width="2.6"/>
<line x1="1319.3" y1="311" x2="1319.3" y2="318" stroke="#161616" stroke-width="2.6"/>
<line x1="1086.05" y1="311" x2="1086.05" y2="315" stroke="#161616" stroke-width="2.2"/>
<line x1="1179.35" y1="311" x2="1179.35" y2="315" stroke="#161616" stroke-width="2.2"/>
<line x1="1272.65" y1="311" x2="1272.65" y2="315" stroke="#161616" stroke-width="2.2"/>
<line x1="992.7" y1="6" x2="992.7" y2="312.5" stroke="#136670" stroke-width="3.4"/>
<line x1="987.7" y1="311" x2="992.7" y2="311" stroke="#136670" stroke-width="2.6"/>
<text x="984" y="315.94" font-family="'Liberation Serif', 'Times New Roman', serif" font-size="15.95" fill="#1c1c1c" text-anchor="end" textLength="7.25" lengthAdjust="spacingAndGlyphs" stroke="#1c1c1c" stroke-width="0.25">0</text>
<line x1="990.2" y1="277.2" x2="992.7" y2="277.2" stroke="#136670" stroke-width="2.6"/>
<line x1="987.7" y1="243.4" x2="992.7" y2="243.4" stroke="#136670" stroke-width="2.6"/>
<text x="984" y="248.34" font-family="'Liberation Serif', 'Times New Roman', serif" font-size="15.95" fill="#1c1c1c" text-anchor="end" textLength="14.5" lengthAdjust="spacingAndGlyphs" stroke="#1c1c1c" stroke-width="0.25">20</text>
<line x1="990.2" y1="209.6" x2="992.7" y2="209.6" stroke="#136670" stroke-width="2.6"/>
<line x1="987.7" y1="175.8" x2="992.7" y2="175.8" stroke="#136670" stroke-width="2.6"/>
<text x="984" y="180.74" font-family="'Liberation Serif', 'Times New Roman', serif" font-size="15.95" fill="#1c1c1c" text-anchor="end" textLength="14.5" lengthAdjust="spacingAndGlyphs" stroke="#1c1c1c" stroke-width="0.25">40</text>
<line x1="990.2" y1="142" x2="992.7" y2="142" stroke="#136670" stroke-width="2.6"/>
<line x1="987.7" y1="108.2" x2="992.7" y2="108.2" stroke="#136670" stroke-width="2.6"/>
<text x="984" y="113.14" font-family="'Liberation Serif', 'Times New Roman', serif" font-size="15.95" fill="#1c1c1c" text-anchor="end" textLength="14.5" lengthAdjust="spacingAndGlyphs" stroke="#1c1c1c" stroke-width="0.25">60</text>
<line x1="990.2" y1="74.4" x2="992.7" y2="74.4" stroke="#136670" stroke-width="2.6"/>
<line x1="987.7" y1="40.6" x2="992.7" y2="40.6" stroke="#136670" stroke-width="2.6"/>
<text x="984" y="45.54" font-family="'Liberation Serif', 'Times New Roman', serif" font-size="15.95" fill="#1c1c1c" text-anchor="end" textLength="14.5" lengthAdjust="spacingAndGlyphs" stroke="#1c1c1c" stroke-width="0.25">80</text>
<line x1="990.2" y1="6.8" x2="992.7" y2="6.8" stroke="#136670" stroke-width="2.6"/>
<rect x="990.7" y="5.5" width="4" height="3.5" fill="#1a1a1a"/>
<line x1="1365.3" y1="6" x2="1365.3" y2="312.5" stroke="#bf7774" stroke-width="3"/>
<rect x="1363.6" y="5.5" width="3.4" height="2.5" fill="#5a4a4a"/>
<line x1="1365.3" y1="311" x2="1370.3" y2="311" stroke="#bf7774" stroke-width="2.4"/>
<text x="1374" y="316.01" font-family="'Liberation Serif', 'Times New Roman', serif" font-size="16.17" fill="#1c1c1c" text-anchor="start" textLength="7.35" lengthAdjust="spacingAndGlyphs" stroke="#1c1c1c" stroke-width="0.25">0</text>
<line x1="1365.3" y1="283.36" x2="1367.8" y2="283.36" stroke="#bf7774" stroke-width="2.4"/>
<line x1="1365.3" y1="255.72" x2="1370.3" y2="255.72" stroke="#bf7774" stroke-width="2.4"/>
<text x="1374" y="260.73" font-family="'Liberation Serif', 'Times New Roman', serif" font-size="16.17" fill="#1c1c1c" text-anchor="start" textLength="14.7" lengthAdjust="spacingAndGlyphs" stroke="#1c1c1c" stroke-width="0.25">20</text>
<line x1="1365.3" y1="228.08" x2="1367.8" y2="228.08" stroke="#bf7774" stroke-width="2.4"/>
<line x1="1365.3" y1="200.44" x2="1370.3" y2="200.44" stroke="#bf7774" stroke-width="2.4"/>
<text x="1374" y="205.45" font-family="'Liberation Serif', 'Times New Roman', serif" font-size="16.17" fill="#1c1c1c" text-anchor="start" textLength="14.7" lengthAdjust="spacingAndGlyphs" stroke="#1c1c1c" stroke-width="0.25">40</text>
<line x1="1365.3" y1="172.8" x2="1367.8" y2="172.8" stroke="#bf7774" stroke-width="2.4"/>
<line x1="1365.3" y1="145.16" x2="1370.3" y2="145.16" stroke="#bf7774" stroke-width="2.4"/>
<text x="1374" y="150.17" font-family="'Liberation Serif', 'Times New Roman', serif" font-size="16.17" fill="#1c1c1c" text-anchor="start" textLength="14.7" lengthAdjust="spacingAndGlyphs" stroke="#1c1c1c" stroke-width="0.25">60</text>
<line x1="1365.3" y1="117.52" x2="1367.8" y2="117.52" stroke="#bf7774" stroke-width="2.4"/>
<line x1="1365.3" y1="89.88" x2="1370.3" y2="89.88" stroke="#bf7774" stroke-width="2.4"/>
<text x="1374" y="94.89" font-family="'Liberation Serif', 'Times New Roman', serif" font-size="16.17" fill="#1c1c1c" text-anchor="start" textLength="14.7" lengthAdjust="spacingAndGlyphs" stroke="#1c1c1c" stroke-width="0.25">80</text>
<line x1="1365.3" y1="62.24" x2="1367.8" y2="62.24" stroke="#bf7774" stroke-width="2.4"/>
<line x1="1365.3" y1="34.6" x2="1370.3" y2="34.6" stroke="#bf7774" stroke-width="2.4"/>
<text x="1374" y="39.61" font-family="'Liberation Serif', 'Times New Roman', serif" font-size="16.17" fill="#1c1c1c" text-anchor="start" textLength="22.05" lengthAdjust="spacingAndGlyphs" stroke="#1c1c1c" stroke-width="0.25">100</text>
<line x1="1365.3" y1="6.96" x2="1367.8" y2="6.96" stroke="#bf7774" stroke-width="2.4"/>
<text x="1006.95" y="335.6" font-family="'Liberation Serif', 'Times New Roman', serif" font-size="21.6" fill="#141414" textLength="65.3" lengthAdjust="spacingAndGlyphs" stroke="#141414" stroke-width="0.25">Linalool</text>
<text x="1099.05" y="335.6" font-family="'Liberation Serif', 'Times New Roman', serif" font-size="21.6" fill="#141414" textLength="77.7" lengthAdjust="spacingAndGlyphs" stroke="#141414" stroke-width="0.25">Artemisia</text>
<text x="1099.05" y="361.6" font-family="'Liberation Serif', 'Times New Roman', serif" font-size="21.6" fill="#141414" textLength="56.3" lengthAdjust="spacingAndGlyphs" stroke="#141414" stroke-width="0.25">Ketone</text>
<text x="1197.55" y="335.6" font-family="'Liberation Serif', 'Times New Roman', serif" font-size="21.6" fill="#141414" textLength="74.3" lengthAdjust="spacingAndGlyphs" stroke="#141414" stroke-width="0.25">Eucalytol</text>
<text x="1290.25" y="335.6" font-family="'Liberation Serif', 'Times New Roman', serif" font-size="21.6" fill="#141414" textLength="73.4" lengthAdjust="spacingAndGlyphs" stroke="#141414" stroke-width="0.25">Camphor</text>
<text x="1147.25" y="37.6" font-family="'Liberation Sans', Arial, sans-serif" font-size="15.78" fill="#111" textLength="62" lengthAdjust="spacingAndGlyphs" stroke="#111" stroke-width="0.3">Jiangsu</text>
<text x="1026.1" y="300.4" font-family="'Liberation Sans', Arial, sans-serif" font-size="13.69" fill="#161616" text-anchor="middle" stroke="#161616" stroke-width="0.3">0</text>
<text x="1053.2" y="300.4" font-family="'Liberation Sans', Arial, sans-serif" font-size="13.69" fill="#161616" text-anchor="middle" stroke="#161616" stroke-width="0.3">0</text>
<text x="1102.15" y="165.9" font-family="'Liberation Sans', Arial, sans-serif" font-size="15.08" fill="#10262b" textLength="23.4" lengthAdjust="spacingAndGlyphs" stroke="#10262b" stroke-width="0.3">50.2</text>
<text x="1149.8" y="311" font-family="'Liberation Sans', Arial, sans-serif" font-size="12.57" fill="#161616" text-anchor="middle" stroke="#161616" stroke-width="0.3">4</text>
<text x="1193.65" y="198.1" font-family="'Liberation Sans', Arial, sans-serif" font-size="15.08" fill="#10262b" textLength="23.1" lengthAdjust="spacingAndGlyphs" stroke="#10262b" stroke-width="0.3">40.4</text>
<text x="1243.4" y="302.5" font-family="'Liberation Sans', Arial, sans-serif" font-size="13.69" fill="#161616" text-anchor="middle" stroke="#161616" stroke-width="0.3">9</text>
<text x="1289.95" y="164.1" font-family="'Liberation Sans', Arial, sans-serif" font-size="14.66" fill="#10262b" textLength="23.8" lengthAdjust="spacingAndGlyphs" stroke="#10262b" stroke-width="0.3">49.9</text>
<text x="1338" y="310.1" font-family="'Liberation Sans', Arial, sans-serif" font-size="13.83" fill="#161616" text-anchor="middle" stroke="#161616" stroke-width="0.3">5</text>
<text x="0" y="0" transform="translate(967.5 223.1) rotate(-90)" font-family="'Liberation Sans', Arial, sans-serif" font-size="23.04" fill="#111" textLength="148.7" lengthAdjust="spacingAndGlyphs" stroke="#111" stroke-width="0.3">Relevant content %</text>
<text x="0" y="0" transform="translate(1409.2 179.6) rotate(-90)" font-family="'Liberation Sans', Arial, sans-serif" font-size="21.65" fill="#111" textLength="61.8" lengthAdjust="spacingAndGlyphs" stroke="#111" stroke-width="0.3">Number</text>
</g>
<g>
<rect x="1488.3" y="98.57" width="41" height="213.03" fill="#068e9e" stroke="#38454a" stroke-width="1.7"/>
<rect x="1529.3" y="306" width="40.3" height="5.6" fill="#f6b3ae" stroke="#8c6e6c" stroke-width="1.4"/>
<rect x="1590.2" y="139.67" width="41" height="171.94" fill="#068e9e" stroke="#38454a" stroke-width="1.7"/>
<rect x="1631.2" y="294.8" width="40.3" height="16.8" fill="#f6b3ae" stroke="#8c6e6c" stroke-width="1.4"/>
<rect x="1692.1" y="171.86" width="41" height="139.74" fill="#068e9e" stroke="#38454a" stroke-width="1.7"/>
<rect x="1733.1" y="306" width="40.3" height="5.6" fill="#f6b3ae" stroke="#8c6e6c" stroke-width="1.4"/>
<rect x="1794" y="116.72" width="41" height="194.88" fill="#068e9e" stroke="#38454a" stroke-width="1.7"/>
<rect x="1835" y="297.6" width="40.3" height="14" fill="#f6b3ae" stroke="#8c6e6c" stroke-width="1.4"/>
<path d="M1508.8 94.46V98.57M1504.8 94.46H1512.8" stroke="#5a5a5a" stroke-width="1.3" fill="none"/>
<path d="M1508.8 98.57V102.68M1504.8 102.68H1512.8" stroke="#4d5658" stroke-width="1.2" fill="none" opacity="0.45"/>
<path d="M1610.7 90.69V139.67M1606.7 90.69H1614.7" stroke="#5a5a5a" stroke-width="1.3" fill="none"/>
<path d="M1610.7 139.67V188.64M1606.7 188.64H1614.7" stroke="#4d5658" stroke-width="1.2" fill="none" opacity="0.45"/>
<path d="M1712.6 165.35V171.86M1708.6 165.35H1716.6" stroke="#5a5a5a" stroke-width="1.3" fill="none"/>
<path d="M1712.6 171.86V178.37M1708.6 178.37H1716.6" stroke="#4d5658" stroke-width="1.2" fill="none" opacity="0.45"/>
<path d="M1814.5 104.73V116.72M1810.5 104.73H1818.5" stroke="#5a5a5a" stroke-width="1.3" fill="none"/>
<path d="M1814.5 116.72V128.71M1810.5 128.71H1818.5" stroke="#4d5658" stroke-width="1.2" fill="none" opacity="0.45"/>
<line x1="1478.4" y1="311.6" x2="1884.6" y2="311.6" stroke="#161616" stroke-width="3"/>
<line x1="1529.3" y1="311.6" x2="1529.3" y2="318.6" stroke="#161616" stroke-width="2.6"/>
<line x1="1631.2" y1="311.6" x2="1631.2" y2="318.6" stroke="#161616" stroke-width="2.6"/>
<line x1="1733.1" y1="311.6" x2="1733.1" y2="318.6" stroke="#161616" stroke-width="2.6"/>
<line x1="1835" y1="311.6" x2="1835" y2="318.6" stroke="#161616" stroke-width="2.6"/>
<line x1="1580.25" y1="311.6" x2="1580.25" y2="315.6" stroke="#161616" stroke-width="2.2"/>
<line x1="1682.15" y1="311.6" x2="1682.15" y2="315.6" stroke="#161616" stroke-width="2.2"/>
<line x1="1784.05" y1="311.6" x2="1784.05" y2="315.6" stroke="#161616" stroke-width="2.2"/>
<line x1="1478.4" y1="3.6" x2="1478.4" y2="313.1" stroke="#136670" stroke-width="3.4"/>
<line x1="1473.4" y1="311.6" x2="1478.4" y2="311.6" stroke="#136670" stroke-width="2.6"/>
<text x="1470.3" y="316.89" font-family="'Liberation Serif', 'Times New Roman', serif" font-size="17.05" fill="#1c1c1c" text-anchor="end" textLength="7.75" lengthAdjust="spacingAndGlyphs" stroke="#1c1c1c" stroke-width="0.25">0</text>
<line x1="1475.9" y1="277.35" x2="1478.4" y2="277.35" stroke="#136670" stroke-width="2.6"/>
<line x1="1473.4" y1="243.1" x2="1478.4" y2="243.1" stroke="#136670" stroke-width="2.6"/>
<text x="1470.3" y="248.39" font-family="'Liberation Serif', 'Times New Roman', serif" font-size="17.05" fill="#1c1c1c" text-anchor="end" textLength="15.5" lengthAdjust="spacingAndGlyphs" stroke="#1c1c1c" stroke-width="0.25">20</text>
<line x1="1475.9" y1="208.85" x2="1478.4" y2="208.85" stroke="#136670" stroke-width="2.6"/>
<line x1="1473.4" y1="174.6" x2="1478.4" y2="174.6" stroke="#136670" stroke-width="2.6"/>
<text x="1470.3" y="179.89" font-family="'Liberation Serif', 'Times New Roman', serif" font-size="17.05" fill="#1c1c1c" text-anchor="end" textLength="15.5" lengthAdjust="spacingAndGlyphs" stroke="#1c1c1c" stroke-width="0.25">40</text>
<line x1="1475.9" y1="140.35" x2="1478.4" y2="140.35" stroke="#136670" stroke-width="2.6"/>
<line x1="1473.4" y1="106.1" x2="1478.4" y2="106.1" stroke="#136670" stroke-width="2.6"/>
<text x="1470.3" y="111.39" font-family="'Liberation Serif', 'Times New Roman', serif" font-size="17.05" fill="#1c1c1c" text-anchor="end" textLength="15.5" lengthAdjust="spacingAndGlyphs" stroke="#1c1c1c" stroke-width="0.25">60</text>
<line x1="1475.9" y1="71.85" x2="1478.4" y2="71.85" stroke="#136670" stroke-width="2.6"/>
<line x1="1473.4" y1="37.6" x2="1478.4" y2="37.6" stroke="#136670" stroke-width="2.6"/>
<text x="1470.3" y="42.89" font-family="'Liberation Serif', 'Times New Roman', serif" font-size="17.05" fill="#1c1c1c" text-anchor="end" textLength="15.5" lengthAdjust="spacingAndGlyphs" stroke="#1c1c1c" stroke-width="0.25">80</text>
<line x1="1475.9" y1="3.35" x2="1478.4" y2="3.35" stroke="#136670" stroke-width="2.6"/>
<rect x="1476.4" y="3.1" width="4" height="3.5" fill="#1a1a1a"/>
<line x1="1884.6" y1="3.6" x2="1884.6" y2="313.1" stroke="#bf7774" stroke-width="3"/>
<rect x="1882.9" y="3.1" width="3.4" height="2.5" fill="#5a4a4a"/>
<line x1="1884.6" y1="311.6" x2="1889.6" y2="311.6" stroke="#bf7774" stroke-width="2.4"/>
<text x="1895.6" y="316.72" font-family="'Liberation Serif', 'Times New Roman', serif" font-size="16.5" fill="#1c1c1c" text-anchor="start" textLength="7.5" lengthAdjust="spacingAndGlyphs" stroke="#1c1c1c" stroke-width="0.25">0</text>
<line x1="1884.6" y1="283.6" x2="1887.1" y2="283.6" stroke="#bf7774" stroke-width="2.4"/>
<line x1="1884.6" y1="255.6" x2="1889.6" y2="255.6" stroke="#bf7774" stroke-width="2.4"/>
<text x="1895.6" y="260.72" font-family="'Liberation Serif', 'Times New Roman', serif" font-size="16.5" fill="#1c1c1c" text-anchor="start" textLength="15" lengthAdjust="spacingAndGlyphs" stroke="#1c1c1c" stroke-width="0.25">20</text>
<line x1="1884.6" y1="227.6" x2="1887.1" y2="227.6" stroke="#bf7774" stroke-width="2.4"/>
<line x1="1884.6" y1="199.6" x2="1889.6" y2="199.6" stroke="#bf7774" stroke-width="2.4"/>
<text x="1895.6" y="204.72" font-family="'Liberation Serif', 'Times New Roman', serif" font-size="16.5" fill="#1c1c1c" text-anchor="start" textLength="15" lengthAdjust="spacingAndGlyphs" stroke="#1c1c1c" stroke-width="0.25">40</text>
<line x1="1884.6" y1="171.6" x2="1887.1" y2="171.6" stroke="#bf7774" stroke-width="2.4"/>
<line x1="1884.6" y1="143.6" x2="1889.6" y2="143.6" stroke="#bf7774" stroke-width="2.4"/>
<text x="1895.6" y="148.72" font-family="'Liberation Serif', 'Times New Roman', serif" font-size="16.5" fill="#1c1c1c" text-anchor="start" textLength="15" lengthAdjust="spacingAndGlyphs" stroke="#1c1c1c" stroke-width="0.25">60</text>
<line x1="1884.6" y1="115.6" x2="1887.1" y2="115.6" stroke="#bf7774" stroke-width="2.4"/>
<line x1="1884.6" y1="87.6" x2="1889.6" y2="87.6" stroke="#bf7774" stroke-width="2.4"/>
<text x="1895.6" y="92.72" font-family="'Liberation Serif', 'Times New Roman', serif" font-size="16.5" fill="#1c1c1c" text-anchor="start" textLength="15" lengthAdjust="spacingAndGlyphs" stroke="#1c1c1c" stroke-width="0.25">80</text>
<line x1="1884.6" y1="59.6" x2="1887.1" y2="59.6" stroke="#bf7774" stroke-width="2.4"/>
<line x1="1884.6" y1="31.6" x2="1889.6" y2="31.6" stroke="#bf7774" stroke-width="2.4"/>
<text x="1895.6" y="36.72" font-family="'Liberation Serif', 'Times New Roman', serif" font-size="16.5" fill="#1c1c1c" text-anchor="start" textLength="22.5" lengthAdjust="spacingAndGlyphs" stroke="#1c1c1c" stroke-width="0.25">100</text>
<line x1="1884.6" y1="3.6" x2="1887.1" y2="3.6" stroke="#bf7774" stroke-width="2.4"/>
<text x="1500.85" y="335.7" font-family="'Liberation Serif', 'Times New Roman', serif" font-size="21.6" fill="#141414" textLength="68" lengthAdjust="spacingAndGlyphs" stroke="#141414" stroke-width="0.25">Linalool</text>
<text x="1596.35" y="335.7" font-family="'Liberation Serif', 'Times New Roman', serif" font-size="21.6" fill="#141414" textLength="78.8" lengthAdjust="spacingAndGlyphs" stroke="#141414" stroke-width="0.25">Artemisia</text>
<text x="1596.35" y="360.8" font-family="'Liberation Serif', 'Times New Roman', serif" font-size="21.6" fill="#141414" textLength="57.2" lengthAdjust="spacingAndGlyphs" stroke="#141414" stroke-width="0.25">Ketone</text>
<text x="1697.15" y="335.7" font-family="'Liberation Serif', 'Times New Roman', serif" font-size="21.6" fill="#141414" textLength="77.4" lengthAdjust="spacingAndGlyphs" stroke="#141414" stroke-width="0.25">Eucalytol</text>
<text x="1798.95" y="335.7" font-family="'Liberation Serif', 'Times New Roman', serif" font-size="21.6" fill="#141414" textLength="75.6" lengthAdjust="spacingAndGlyphs" stroke="#141414" stroke-width="0.25">Camphor</text>
<text x="1636.35" y="39.1" font-family="'Liberation Sans', Arial, sans-serif" font-size="22.07" fill="#111" textLength="81.6" lengthAdjust="spacingAndGlyphs" stroke="#111" stroke-width="0.3">Zhejiang</text>
<text x="1496.95" y="122.9" font-family="'Liberation Sans', Arial, sans-serif" font-size="15.08" fill="#10262b" textLength="25.3" lengthAdjust="spacingAndGlyphs" stroke="#10262b" stroke-width="0.3">62.2</text>
<text x="1548" y="304.4" font-family="'Liberation Sans', Arial, sans-serif" font-size="13.69" fill="#161616" text-anchor="middle" stroke="#161616" stroke-width="0.3">2</text>
<text x="1600.15" y="205.7" font-family="'Liberation Sans', Arial, sans-serif" font-size="14.66" fill="#10262b" textLength="24.5" lengthAdjust="spacingAndGlyphs" stroke="#10262b" stroke-width="0.3">50.2</text>
<text x="1652.8" y="292.4" font-family="'Liberation Sans', Arial, sans-serif" font-size="13.83" fill="#161616" text-anchor="middle" stroke="#161616" stroke-width="0.3">6</text>
<text x="1697.15" y="193.6" font-family="'Liberation Sans', Arial, sans-serif" font-size="14.53" fill="#10262b" textLength="25.3" lengthAdjust="spacingAndGlyphs" stroke="#10262b" stroke-width="0.3">40.8</text>
<text x="1752.1" y="301.4" font-family="'Liberation Sans', Arial, sans-serif" font-size="13.69" fill="#161616" text-anchor="middle" stroke="#161616" stroke-width="0.3">2</text>
<text x="1802.55" y="145.4" font-family="'Liberation Sans', Arial, sans-serif" font-size="14.53" fill="#10262b" textLength="25.3" lengthAdjust="spacingAndGlyphs" stroke="#10262b" stroke-width="0.3">56.9</text>
<text x="1853" y="296" font-family="'Liberation Sans', Arial, sans-serif" font-size="13.83" fill="#161616" text-anchor="middle" stroke="#161616" stroke-width="0.3">5</text>
<text x="0" y="0" transform="translate(1448.4 217.4) rotate(-90)" font-family="'Liberation Sans', Arial, sans-serif" font-size="23.74" fill="#111" textLength="149.5" lengthAdjust="spacingAndGlyphs" stroke="#111" stroke-width="0.3">Relevant content %</text>
<text x="0" y="0" transform="translate(1928.9 180) rotate(-90)" font-family="'Liberation Sans', Arial, sans-serif" font-size="23.32" fill="#111" textLength="61.6" lengthAdjust="spacingAndGlyphs" stroke="#111" stroke-width="0.3">Number</text>
</g>
<g>
<rect x="156" y="555.33" width="39" height="202.27" fill="#068e9e" stroke="#38454a" stroke-width="1.7"/>
<rect x="195" y="727.23" width="38.4" height="30.37" fill="#f6b3ae" stroke="#8c6e6c" stroke-width="1.4"/>
<rect x="252.4" y="614.56" width="39" height="143.04" fill="#068e9e" stroke="#38454a" stroke-width="1.7"/>
<rect x="291.4" y="742.41" width="38.4" height="15.19" fill="#f6b3ae" stroke="#8c6e6c" stroke-width="1.4"/>
<rect x="348.5" y="602.27" width="39" height="155.33" fill="#068e9e" stroke="#38454a" stroke-width="1.7"/>
<rect x="387.5" y="718.12" width="38.4" height="39.48" fill="#f6b3ae" stroke="#8c6e6c" stroke-width="1.4"/>
<path d="M175.5 547.14V555.33M171.5 547.14H179.5" stroke="#5a5a5a" stroke-width="1.3" fill="none"/>
<path d="M175.5 555.33V563.53M171.5 563.53H179.5" stroke="#4d5658" stroke-width="1.2" fill="none" opacity="0.45"/>
<path d="M271.9 605.25V614.56M267.9 605.25H275.9" stroke="#5a5a5a" stroke-width="1.3" fill="none"/>
<path d="M271.9 614.56V623.87M267.9 623.87H275.9" stroke="#4d5658" stroke-width="1.2" fill="none" opacity="0.45"/>
<path d="M368 586.62V602.27M364 586.62H372" stroke="#5a5a5a" stroke-width="1.3" fill="none"/>
<path d="M368 602.27V617.91M364 617.91H372" stroke="#4d5658" stroke-width="1.2" fill="none" opacity="0.45"/>
<line x1="51.1" y1="757.6" x2="436.3" y2="757.6" stroke="#161616" stroke-width="3"/>
<line x1="98.75" y1="757.6" x2="98.75" y2="764.6" stroke="#161616" stroke-width="2.6"/>
<line x1="195" y1="757.6" x2="195" y2="764.6" stroke="#161616" stroke-width="2.6"/>
<line x1="291.4" y1="757.6" x2="291.4" y2="764.6" stroke="#161616" stroke-width="2.6"/>
<line x1="387.5" y1="757.6" x2="387.5" y2="764.6" stroke="#161616" stroke-width="2.6"/>
<line x1="146.88" y1="757.6" x2="146.88" y2="761.6" stroke="#161616" stroke-width="2.2"/>
<line x1="243.2" y1="757.6" x2="243.2" y2="761.6" stroke="#161616" stroke-width="2.2"/>
<line x1="339.45" y1="757.6" x2="339.45" y2="761.6" stroke="#161616" stroke-width="2.2"/>
<line x1="51.1" y1="423.2" x2="51.1" y2="759.1" stroke="#136670" stroke-width="3.4"/>
<line x1="46.1" y1="757.6" x2="51.1" y2="757.6" stroke="#136670" stroke-width="2.6"/>
<text x="42.8" y="763.57" font-family="'Liberation Serif', 'Times New Roman', serif" font-size="19.25" fill="#1c1c1c" text-anchor="end" textLength="8.75" lengthAdjust="spacingAndGlyphs" stroke="#1c1c1c" stroke-width="0.25">0</text>
<line x1="48.6" y1="720.35" x2="51.1" y2="720.35" stroke="#136670" stroke-width="2.6"/>
<line x1="46.1" y1="683.1" x2="51.1" y2="683.1" stroke="#136670" stroke-width="2.6"/>
<text x="42.8" y="689.07" font-family="'Liberation Serif', 'Times New Roman', serif" font-size="19.25" fill="#1c1c1c" text-anchor="end" textLength="17.5" lengthAdjust="spacingAndGlyphs" stroke="#1c1c1c" stroke-width="0.25">20</text>
<line x1="48.6" y1="645.85" x2="51.1" y2="645.85" stroke="#136670" stroke-width="2.6"/>
<line x1="46.1" y1="608.6" x2="51.1" y2="608.6" stroke="#136670" stroke-width="2.6"/>
<text x="42.8" y="614.57" font-family="'Liberation Serif', 'Times New Roman', serif" font-size="19.25" fill="#1c1c1c" text-anchor="end" textLength="17.5" lengthAdjust="spacingAndGlyphs" stroke="#1c1c1c" stroke-width="0.25">40</text>
<line x1="48.6" y1="571.35" x2="51.1" y2="571.35" stroke="#136670" stroke-width="2.6"/>
<line x1="46.1" y1="534.1" x2="51.1" y2="534.1" stroke="#136670" stroke-width="2.6"/>
<text x="42.8" y="540.07" font-family="'Liberation Serif', 'Times New Roman', serif" font-size="19.25" fill="#1c1c1c" text-anchor="end" textLength="17.5" lengthAdjust="spacingAndGlyphs" stroke="#1c1c1c" stroke-width="0.25">60</text>
<line x1="48.6" y1="496.85" x2="51.1" y2="496.85" stroke="#136670" stroke-width="2.6"/>
<line x1="46.1" y1="459.6" x2="51.1" y2="459.6" stroke="#136670" stroke-width="2.6"/>
<text x="42.8" y="465.57" font-family="'Liberation Serif', 'Times New Roman', serif" font-size="19.25" fill="#1c1c1c" text-anchor="end" textLength="17.5" lengthAdjust="spacingAndGlyphs" stroke="#1c1c1c" stroke-width="0.25">80</text>
<line x1="48.6" y1="422.35" x2="51.1" y2="422.35" stroke="#136670" stroke-width="2.6"/>
<rect x="49.1" y="422.7" width="4" height="3.5" fill="#1a1a1a"/>
<line x1="436.3" y1="423.2" x2="436.3" y2="759.1" stroke="#bf7774" stroke-width="3"/>
<rect x="434.6" y="422.7" width="3.4" height="2.5" fill="#5a4a4a"/>
<line x1="436.3" y1="757.6" x2="441.3" y2="757.6" stroke="#bf7774" stroke-width="2.4"/>
<text x="446.3" y="763.23" font-family="'Liberation Serif', 'Times New Roman', serif" font-size="18.15" fill="#1c1c1c" text-anchor="start" textLength="8.25" lengthAdjust="spacingAndGlyphs" stroke="#1c1c1c" stroke-width="0.25">0</text>
<line x1="436.3" y1="727.23" x2="438.8" y2="727.23" stroke="#bf7774" stroke-width="2.4"/>
<line x1="436.3" y1="696.86" x2="441.3" y2="696.86" stroke="#bf7774" stroke-width="2.4"/>
<text x="446.3" y="702.49" font-family="'Liberation Serif', 'Times New Roman', serif" font-size="18.15" fill="#1c1c1c" text-anchor="start" textLength="16.5" lengthAdjust="spacingAndGlyphs" stroke="#1c1c1c" stroke-width="0.25">20</text>
<line x1="436.3" y1="666.49" x2="438.8" y2="666.49" stroke="#bf7774" stroke-width="2.4"/>
<line x1="436.3" y1="636.12" x2="441.3" y2="636.12" stroke="#bf7774" stroke-width="2.4"/>
<text x="446.3" y="641.75" font-family="'Liberation Serif', 'Times New Roman', serif" font-size="18.15" fill="#1c1c1c" text-anchor="start" textLength="16.5" lengthAdjust="spacingAndGlyphs" stroke="#1c1c1c" stroke-width="0.25">40</text>
<line x1="436.3" y1="605.75" x2="438.8" y2="605.75" stroke="#bf7774" stroke-width="2.4"/>
<line x1="436.3" y1="575.38" x2="441.3" y2="575.38" stroke="#bf7774" stroke-width="2.4"/>
<text x="446.3" y="581.01" font-family="'Liberation Serif', 'Times New Roman', serif" font-size="18.15" fill="#1c1c1c" text-anchor="start" textLength="16.5" lengthAdjust="spacingAndGlyphs" stroke="#1c1c1c" stroke-width="0.25">60</text>
<line x1="436.3" y1="545.01" x2="438.8" y2="545.01" stroke="#bf7774" stroke-width="2.4"/>
<line x1="436.3" y1="514.64" x2="441.3" y2="514.64" stroke="#bf7774" stroke-width="2.4"/>
<text x="446.3" y="520.27" font-family="'Liberation Serif', 'Times New Roman', serif" font-size="18.15" fill="#1c1c1c" text-anchor="start" textLength="16.5" lengthAdjust="spacingAndGlyphs" stroke="#1c1c1c" stroke-width="0.25">80</text>
<line x1="436.3" y1="484.27" x2="438.8" y2="484.27" stroke="#bf7774" stroke-width="2.4"/>
<line x1="436.3" y1="453.9" x2="441.3" y2="453.9" stroke="#bf7774" stroke-width="2.4"/>
<text x="446.3" y="459.53" font-family="'Liberation Serif', 'Times New Roman', serif" font-size="18.15" fill="#1c1c1c" text-anchor="start" textLength="24.75" lengthAdjust="spacingAndGlyphs" stroke="#1c1c1c" stroke-width="0.25">100</text>
<line x1="436.3" y1="423.53" x2="438.8" y2="423.53" stroke="#bf7774" stroke-width="2.4"/>
<text x="71.75" y="785.1" font-family="'Liberation Serif', 'Times New Roman', serif" font-size="21.6" fill="#141414" textLength="67.2" lengthAdjust="spacingAndGlyphs" stroke="#141414" stroke-width="0.25">Linalool</text>
<text x="165.45" y="785.1" font-family="'Liberation Serif', 'Times New Roman', serif" font-size="21.6" fill="#141414" textLength="78.8" lengthAdjust="spacingAndGlyphs" stroke="#141414" stroke-width="0.25">Artemisia</text>
<text x="165.45" y="810" font-family="'Liberation Serif', 'Times New Roman', serif" font-size="21.6" fill="#141414" textLength="57.6" lengthAdjust="spacingAndGlyphs" stroke="#141414" stroke-width="0.25">Ketone</text>
<text x="265.95" y="785.1" font-family="'Liberation Serif', 'Times New Roman', serif" font-size="21.6" fill="#141414" textLength="75.4" lengthAdjust="spacingAndGlyphs" stroke="#141414" stroke-width="0.25">Eucalytol</text>
<text x="361.45" y="785.1" font-family="'Liberation Serif', 'Times New Roman', serif" font-size="21.6" fill="#141414" textLength="74.7" lengthAdjust="spacingAndGlyphs" stroke="#141414" stroke-width="0.25">Camphor</text>
<text x="214.85" y="439.9" font-family="'Liberation Sans', Arial, sans-serif" font-size="18.99" fill="#111" textLength="67.9" lengthAdjust="spacingAndGlyphs" stroke="#111" stroke-width="0.3">Guizhou</text>
<text x="80.1" y="746.4" font-family="'Liberation Sans', Arial, sans-serif" font-size="14.8" fill="#161616" text-anchor="middle" stroke="#161616" stroke-width="0.3">0</text>
<text x="121.7" y="746.4" font-family="'Liberation Sans', Arial, sans-serif" font-size="14.8" fill="#161616" text-anchor="middle" stroke="#161616" stroke-width="0.3">0</text>
<text x="161.35" y="580" font-family="'Liberation Sans', Arial, sans-serif" font-size="14.66" fill="#10262b" textLength="23.6" lengthAdjust="spacingAndGlyphs" stroke="#10262b" stroke-width="0.3">54.3</text>
<text x="206.35" y="747" font-family="'Liberation Sans', Arial, sans-serif" font-size="15.64" fill="#161616" textLength="14" lengthAdjust="spacingAndGlyphs" stroke="#161616" stroke-width="0.3">10</text>
<text x="258.15" y="640.7" font-family="'Liberation Sans', Arial, sans-serif" font-size="16.2" fill="#10262b" textLength="23.9" lengthAdjust="spacingAndGlyphs" stroke="#10262b" stroke-width="0.3">38.4</text>
<text x="309.5" y="756.3" font-family="'Liberation Sans', Arial, sans-serif" font-size="15.22" fill="#161616" text-anchor="middle" stroke="#161616" stroke-width="0.3">5</text>
<text x="354.65" y="635.3" font-family="'Liberation Sans', Arial, sans-serif" font-size="15.78" fill="#10262b" textLength="23.5" lengthAdjust="spacingAndGlyphs" stroke="#10262b" stroke-width="0.3">41.7</text>
<text x="398.95" y="743" font-family="'Liberation Sans', Arial, sans-serif" font-size="14.8" fill="#161616" textLength="13.3" lengthAdjust="spacingAndGlyphs" stroke="#161616" stroke-width="0.3">13</text>
<text x="0" y="0" transform="translate(18.2 668) rotate(-90)" font-family="'Liberation Sans', Arial, sans-serif" font-size="24.3" fill="#111" textLength="149.4" lengthAdjust="spacingAndGlyphs" stroke="#111" stroke-width="0.3">Relevant content %</text>
<text x="0" y="0" transform="translate(485.6 611.8) rotate(-90)" font-family="'Liberation Sans', Arial, sans-serif" font-size="22.77" fill="#111" textLength="61" lengthAdjust="spacingAndGlyphs" stroke="#111" stroke-width="0.3">Number</text>
</g>
<g>
<rect x="1502.5" y="443.45" width="40.8" height="293.15" fill="#068e9e" stroke="#38454a" stroke-width="1.7"/>
<rect x="1543.3" y="704.19" width="39.6" height="32.41" fill="#f6b3ae" stroke="#8c6e6c" stroke-width="1.4"/>
<rect x="1602.2" y="566.32" width="40.8" height="170.28" fill="#068e9e" stroke="#38454a" stroke-width="1.7"/>
<rect x="1643" y="648.22" width="39.6" height="88.38" fill="#f6b3ae" stroke="#8c6e6c" stroke-width="1.4"/>
<rect x="1701.4" y="559.13" width="40.8" height="177.47" fill="#068e9e" stroke="#38454a" stroke-width="1.7"/>
<rect x="1742.2" y="665.9" width="39.6" height="70.7" fill="#f6b3ae" stroke="#8c6e6c" stroke-width="1.4"/>
<rect x="1801" y="508.12" width="40.8" height="228.48" fill="#068e9e" stroke="#38454a" stroke-width="1.7"/>
<rect x="1841.8" y="701.25" width="39.6" height="35.35" fill="#f6b3ae" stroke="#8c6e6c" stroke-width="1.4"/>
<path d="M1522.9 433.03V443.45M1518.9 433.03H1526.9" stroke="#5a5a5a" stroke-width="1.3" fill="none"/>
<path d="M1522.9 443.45V453.87M1518.9 453.87H1526.9" stroke="#4d5658" stroke-width="1.2" fill="none" opacity="0.45"/>
<path d="M1622.6 559.13V566.32M1618.6 559.13H1626.6" stroke="#5a5a5a" stroke-width="1.3" fill="none"/>
<path d="M1622.6 566.32V573.5M1618.6 573.5H1626.6" stroke="#4d5658" stroke-width="1.2" fill="none" opacity="0.45"/>
<path d="M1721.8 558.41V559.13M1717.8 558.41H1725.8" stroke="#5a5a5a" stroke-width="1.3" fill="none"/>
<path d="M1721.8 559.13V559.85M1717.8 559.85H1725.8" stroke="#4d5658" stroke-width="1.2" fill="none" opacity="0.45"/>
<path d="M1821.4 498.78V508.12M1817.4 498.78H1825.4" stroke="#5a5a5a" stroke-width="1.3" fill="none"/>
<path d="M1821.4 508.12V517.46M1817.4 517.46H1825.4" stroke="#4d5658" stroke-width="1.2" fill="none" opacity="0.45"/>
<line x1="1493" y1="736.6" x2="1891.8" y2="736.6" stroke="#161616" stroke-width="3"/>
<line x1="1543.3" y1="736.6" x2="1543.3" y2="743.6" stroke="#161616" stroke-width="2.6"/>
<line x1="1643" y1="736.6" x2="1643" y2="743.6" stroke="#161616" stroke-width="2.6"/>
<line x1="1742.2" y1="736.6" x2="1742.2" y2="743.6" stroke="#161616" stroke-width="2.6"/>
<line x1="1841.8" y1="736.6" x2="1841.8" y2="743.6" stroke="#161616" stroke-width="2.6"/>
<line x1="1593.15" y1="736.6" x2="1593.15" y2="740.6" stroke="#161616" stroke-width="2.2"/>
<line x1="1692.6" y1="736.6" x2="1692.6" y2="740.6" stroke="#161616" stroke-width="2.2"/>
<line x1="1792" y1="736.6" x2="1792" y2="740.6" stroke="#161616" stroke-width="2.2"/>
<line x1="1493" y1="413.1" x2="1493" y2="738.1" stroke="#136670" stroke-width="3.4"/>
<line x1="1488" y1="736.6" x2="1493" y2="736.6" stroke="#136670" stroke-width="2.6"/>
<text x="1480" y="743.08" font-family="'Liberation Serif', 'Times New Roman', serif" font-size="20.9" fill="#1c1c1c" text-anchor="end" textLength="9.5" lengthAdjust="spacingAndGlyphs" stroke="#1c1c1c" stroke-width="0.25">0</text>
<line x1="1490.5" y1="700.68" x2="1493" y2="700.68" stroke="#136670" stroke-width="2.6"/>
<line x1="1488" y1="664.75" x2="1493" y2="664.75" stroke="#136670" stroke-width="2.6"/>
<text x="1480" y="671.23" font-family="'Liberation Serif', 'Times New Roman', serif" font-size="20.9" fill="#1c1c1c" text-anchor="end" textLength="19" lengthAdjust="spacingAndGlyphs" stroke="#1c1c1c" stroke-width="0.25">20</text>
<line x1="1490.5" y1="628.83" x2="1493" y2="628.83" stroke="#136670" stroke-width="2.6"/>
<line x1="1488" y1="592.9" x2="1493" y2="592.9" stroke="#136670" stroke-width="2.6"/>
<text x="1480" y="599.38" font-family="'Liberation Serif', 'Times New Roman', serif" font-size="20.9" fill="#1c1c1c" text-anchor="end" textLength="19" lengthAdjust="spacingAndGlyphs" stroke="#1c1c1c" stroke-width="0.25">40</text>
<line x1="1490.5" y1="556.98" x2="1493" y2="556.98" stroke="#136670" stroke-width="2.6"/>
<line x1="1488" y1="521.05" x2="1493" y2="521.05" stroke="#136670" stroke-width="2.6"/>
<text x="1480" y="527.53" font-family="'Liberation Serif', 'Times New Roman', serif" font-size="20.9" fill="#1c1c1c" text-anchor="end" textLength="19" lengthAdjust="spacingAndGlyphs" stroke="#1c1c1c" stroke-width="0.25">60</text>
<line x1="1490.5" y1="485.12" x2="1493" y2="485.12" stroke="#136670" stroke-width="2.6"/>
<line x1="1488" y1="449.2" x2="1493" y2="449.2" stroke="#136670" stroke-width="2.6"/>
<text x="1480" y="455.68" font-family="'Liberation Serif', 'Times New Roman', serif" font-size="20.9" fill="#1c1c1c" text-anchor="end" textLength="19" lengthAdjust="spacingAndGlyphs" stroke="#1c1c1c" stroke-width="0.25">80</text>
<line x1="1490.5" y1="413.27" x2="1493" y2="413.27" stroke="#136670" stroke-width="2.6"/>
<rect x="1491" y="412.6" width="4" height="3.5" fill="#1a1a1a"/>
<line x1="1891.8" y1="413.1" x2="1891.8" y2="738.1" stroke="#bf7774" stroke-width="3"/>
<rect x="1890.1" y="412.6" width="3.4" height="2.5" fill="#5a4a4a"/>
<line x1="1891.8" y1="736.6" x2="1896.8" y2="736.6" stroke="#bf7774" stroke-width="2.4"/>
<text x="1906" y="743.08" font-family="'Liberation Serif', 'Times New Roman', serif" font-size="20.9" fill="#1c1c1c" text-anchor="start" textLength="9.5" lengthAdjust="spacingAndGlyphs" stroke="#1c1c1c" stroke-width="0.25">0</text>
<line x1="1891.8" y1="707.14" x2="1894.3" y2="707.14" stroke="#bf7774" stroke-width="2.4"/>
<line x1="1891.8" y1="677.68" x2="1896.8" y2="677.68" stroke="#bf7774" stroke-width="2.4"/>
<text x="1906" y="684.16" font-family="'Liberation Serif', 'Times New Roman', serif" font-size="20.9" fill="#1c1c1c" text-anchor="start" textLength="19" lengthAdjust="spacingAndGlyphs" stroke="#1c1c1c" stroke-width="0.25">20</text>
<line x1="1891.8" y1="648.22" x2="1894.3" y2="648.22" stroke="#bf7774" stroke-width="2.4"/>
<line x1="1891.8" y1="618.76" x2="1896.8" y2="618.76" stroke="#bf7774" stroke-width="2.4"/>
<text x="1906" y="625.24" font-family="'Liberation Serif', 'Times New Roman', serif" font-size="20.9" fill="#1c1c1c" text-anchor="start" textLength="19" lengthAdjust="spacingAndGlyphs" stroke="#1c1c1c" stroke-width="0.25">40</text>
<line x1="1891.8" y1="589.3" x2="1894.3" y2="589.3" stroke="#bf7774" stroke-width="2.4"/>
<line x1="1891.8" y1="559.84" x2="1896.8" y2="559.84" stroke="#bf7774" stroke-width="2.4"/>
<text x="1906" y="566.32" font-family="'Liberation Serif', 'Times New Roman', serif" font-size="20.9" fill="#1c1c1c" text-anchor="start" textLength="19" lengthAdjust="spacingAndGlyphs" stroke="#1c1c1c" stroke-width="0.25">60</text>
<line x1="1891.8" y1="530.38" x2="1894.3" y2="530.38" stroke="#bf7774" stroke-width="2.4"/>
<line x1="1891.8" y1="500.92" x2="1896.8" y2="500.92" stroke="#bf7774" stroke-width="2.4"/>
<text x="1906" y="507.4" font-family="'Liberation Serif', 'Times New Roman', serif" font-size="20.9" fill="#1c1c1c" text-anchor="start" textLength="19" lengthAdjust="spacingAndGlyphs" stroke="#1c1c1c" stroke-width="0.25">80</text>
<line x1="1891.8" y1="471.46" x2="1894.3" y2="471.46" stroke="#bf7774" stroke-width="2.4"/>
<line x1="1891.8" y1="442" x2="1896.8" y2="442" stroke="#bf7774" stroke-width="2.4"/>
<text x="1906" y="448.48" font-family="'Liberation Serif', 'Times New Roman', serif" font-size="20.9" fill="#1c1c1c" text-anchor="start" textLength="28.5" lengthAdjust="spacingAndGlyphs" stroke="#1c1c1c" stroke-width="0.25">100</text>
<line x1="1891.8" y1="412.54" x2="1894.3" y2="412.54" stroke="#bf7774" stroke-width="2.4"/>
<text x="1511.25" y="769" font-family="'Liberation Serif', 'Times New Roman', serif" font-size="21.6" fill="#141414" textLength="68.1" lengthAdjust="spacingAndGlyphs" stroke="#141414" stroke-width="0.25">Linalool</text>
<text x="1606.55" y="769" font-family="'Liberation Serif', 'Times New Roman', serif" font-size="21.6" fill="#141414" textLength="79" lengthAdjust="spacingAndGlyphs" stroke="#141414" stroke-width="0.25">Artemisia</text>
<text x="1606.55" y="793.9" font-family="'Liberation Serif', 'Times New Roman', serif" font-size="21.6" fill="#141414" textLength="58.3" lengthAdjust="spacingAndGlyphs" stroke="#141414" stroke-width="0.25">Ketone</text>
<text x="1708.15" y="769" font-family="'Liberation Serif', 'Times New Roman', serif" font-size="21.6" fill="#141414" textLength="76.7" lengthAdjust="spacingAndGlyphs" stroke="#141414" stroke-width="0.25">Eucalytol</text>
<text x="1809.75" y="769" font-family="'Liberation Serif', 'Times New Roman', serif" font-size="21.6" fill="#141414" textLength="75.3" lengthAdjust="spacingAndGlyphs" stroke="#141414" stroke-width="0.25">Camphor</text>
<text x="1647.65" y="431.8" font-family="'Liberation Sans', Arial, sans-serif" font-size="18.3" fill="#111" textLength="63.2" lengthAdjust="spacingAndGlyphs" stroke="#111" stroke-width="0.3">Jiangxi</text>
<text x="1508.25" y="491.4" font-family="'Liberation Sans', Arial, sans-serif" font-size="19.69" fill="#10262b" textLength="32.6" lengthAdjust="spacingAndGlyphs" stroke="#10262b" stroke-width="0.3">81.6</text>
<text x="1553.35" y="726.5" font-family="'Liberation Sans', Arial, sans-serif" font-size="19.69" fill="#161616" textLength="17.1" lengthAdjust="spacingAndGlyphs" stroke="#161616" stroke-width="0.3">11</text>
<text x="1605.95" y="602.2" font-family="'Liberation Sans', Arial, sans-serif" font-size="18.3" fill="#10262b" textLength="31.5" lengthAdjust="spacingAndGlyphs" stroke="#10262b" stroke-width="0.3">47.4</text>
<text x="1655.25" y="674.5" font-family="'Liberation Sans', Arial, sans-serif" font-size="19.27" fill="#161616" textLength="17.8" lengthAdjust="spacingAndGlyphs" stroke="#161616" stroke-width="0.3">30</text>
<text x="1704.55" y="581.8" font-family="'Liberation Sans', Arial, sans-serif" font-size="18.72" fill="#10262b" textLength="31.6" lengthAdjust="spacingAndGlyphs" stroke="#10262b" stroke-width="0.3">49.4</text>
<text x="1753.85" y="688.7" font-family="'Liberation Sans', Arial, sans-serif" font-size="19.69" fill="#161616" textLength="17.8" lengthAdjust="spacingAndGlyphs" stroke="#161616" stroke-width="0.3">24</text>
<text x="1804.85" y="540.7" font-family="'Liberation Sans', Arial, sans-serif" font-size="19.69" fill="#10262b" textLength="32.5" lengthAdjust="spacingAndGlyphs" stroke="#10262b" stroke-width="0.3">63.6</text>
<text x="1850.85" y="723.2" font-family="'Liberation Sans', Arial, sans-serif" font-size="18.85" fill="#161616" textLength="17.8" lengthAdjust="spacingAndGlyphs" stroke="#161616" stroke-width="0.3">12</text>
<text x="0" y="0" transform="translate(1454.2 646) rotate(-90)" font-family="'Liberation Sans', Arial, sans-serif" font-size="23.74" fill="#111" textLength="149.5" lengthAdjust="spacingAndGlyphs" stroke="#111" stroke-width="0.3">Relevant content %</text>
<text x="0" y="0" transform="translate(1946 601.3) rotate(-90)" font-family="'Liberation Sans', Arial, sans-serif" font-size="21.79" fill="#111" textLength="59.9" lengthAdjust="spacingAndGlyphs" stroke="#111" stroke-width="0.3">Number</text>
</g>
<g>
<rect x="56.5" y="914.49" width="39.7" height="292.61" fill="#068e9e" stroke="#38454a" stroke-width="1.7"/>
<rect x="96.2" y="1137.79" width="38.2" height="69.31" fill="#f6b3ae" stroke="#8c6e6c" stroke-width="1.4"/>
<rect x="250.1" y="993.49" width="39.7" height="213.61" fill="#068e9e" stroke="#38454a" stroke-width="1.7"/>
<rect x="289.8" y="1204.21" width="38.2" height="2.89" fill="#f6b3ae" stroke="#8c6e6c" stroke-width="1.4"/>
<path d="M76.35 909.18V914.49M72.35 909.18H80.35" stroke="#5a5a5a" stroke-width="1.3" fill="none"/>
<path d="M76.35 914.49V919.8M72.35 919.8H80.35" stroke="#4d5658" stroke-width="1.2" fill="none" opacity="0.45"/>
<line x1="47.1" y1="1207.1" x2="433.8" y2="1207.1" stroke="#161616" stroke-width="3"/>
<line x1="96.2" y1="1207.1" x2="96.2" y2="1214.1" stroke="#161616" stroke-width="2.6"/>
<line x1="193" y1="1207.1" x2="193" y2="1214.1" stroke="#161616" stroke-width="2.6"/>
<line x1="289.8" y1="1207.1" x2="289.8" y2="1214.1" stroke="#161616" stroke-width="2.6"/>
<line x1="386.6" y1="1207.1" x2="386.6" y2="1214.1" stroke="#161616" stroke-width="2.6"/>
<line x1="144.6" y1="1207.1" x2="144.6" y2="1211.1" stroke="#161616" stroke-width="2.2"/>
<line x1="241.4" y1="1207.1" x2="241.4" y2="1211.1" stroke="#161616" stroke-width="2.2"/>
<line x1="338.2" y1="1207.1" x2="338.2" y2="1211.1" stroke="#161616" stroke-width="2.2"/>
<line x1="47.1" y1="888" x2="47.1" y2="1208.6" stroke="#136670" stroke-width="3.4"/>
<line x1="42.1" y1="1207.1" x2="47.1" y2="1207.1" stroke="#136670" stroke-width="2.6"/>
<text x="37.6" y="1212.21" font-family="'Liberation Serif', 'Times New Roman', serif" font-size="16.5" fill="#1d7a86" text-anchor="end" textLength="7.5" lengthAdjust="spacingAndGlyphs" stroke="#1d7a86" stroke-width="0.25">0</text>
<line x1="44.6" y1="1171.67" x2="47.1" y2="1171.67" stroke="#136670" stroke-width="2.6"/>
<line x1="42.1" y1="1136.25" x2="47.1" y2="1136.25" stroke="#136670" stroke-width="2.6"/>
<text x="37.6" y="1141.37" font-family="'Liberation Serif', 'Times New Roman', serif" font-size="16.5" fill="#1c1c1c" text-anchor="end" textLength="15" lengthAdjust="spacingAndGlyphs" stroke="#1c1c1c" stroke-width="0.25">20</text>
<line x1="44.6" y1="1100.83" x2="47.1" y2="1100.83" stroke="#136670" stroke-width="2.6"/>
<line x1="42.1" y1="1065.4" x2="47.1" y2="1065.4" stroke="#136670" stroke-width="2.6"/>
<text x="37.6" y="1070.52" font-family="'Liberation Serif', 'Times New Roman', serif" font-size="16.5" fill="#1c1c1c" text-anchor="end" textLength="15" lengthAdjust="spacingAndGlyphs" stroke="#1c1c1c" stroke-width="0.25">40</text>
<line x1="44.6" y1="1029.97" x2="47.1" y2="1029.97" stroke="#136670" stroke-width="2.6"/>
<line x1="42.1" y1="994.55" x2="47.1" y2="994.55" stroke="#136670" stroke-width="2.6"/>
<text x="37.6" y="999.66" font-family="'Liberation Serif', 'Times New Roman', serif" font-size="16.5" fill="#1c1c1c" text-anchor="end" textLength="15" lengthAdjust="spacingAndGlyphs" stroke="#1c1c1c" stroke-width="0.25">60</text>
<line x1="44.6" y1="959.12" x2="47.1" y2="959.12" stroke="#136670" stroke-width="2.6"/>
<line x1="42.1" y1="923.7" x2="47.1" y2="923.7" stroke="#136670" stroke-width="2.6"/>
<text x="37.6" y="928.82" font-family="'Liberation Serif', 'Times New Roman', serif" font-size="16.5" fill="#1c1c1c" text-anchor="end" textLength="15" lengthAdjust="spacingAndGlyphs" stroke="#1c1c1c" stroke-width="0.25">80</text>
<line x1="44.6" y1="888.28" x2="47.1" y2="888.28" stroke="#136670" stroke-width="2.6"/>
<rect x="45.1" y="887.5" width="4" height="3.5" fill="#1a1a1a"/>
<line x1="433.8" y1="888" x2="433.8" y2="1208.6" stroke="#bf7774" stroke-width="3"/>
<rect x="432.1" y="887.5" width="3.4" height="2.5" fill="#5a4a4a"/>
<line x1="433.8" y1="1207.1" x2="438.8" y2="1207.1" stroke="#bf7774" stroke-width="2.4"/>
<text x="444.8" y="1212.39" font-family="'Liberation Serif', 'Times New Roman', serif" font-size="17.05" fill="#1c1c1c" text-anchor="start" textLength="7.75" lengthAdjust="spacingAndGlyphs" stroke="#1c1c1c" stroke-width="0.25">0</text>
<line x1="433.8" y1="1178.22" x2="436.3" y2="1178.22" stroke="#bf7774" stroke-width="2.4"/>
<line x1="433.8" y1="1149.34" x2="438.8" y2="1149.34" stroke="#bf7774" stroke-width="2.4"/>
<text x="444.8" y="1154.63" font-family="'Liberation Serif', 'Times New Roman', serif" font-size="17.05" fill="#1c1c1c" text-anchor="start" textLength="15.5" lengthAdjust="spacingAndGlyphs" stroke="#1c1c1c" stroke-width="0.25">20</text>
<line x1="433.8" y1="1120.46" x2="436.3" y2="1120.46" stroke="#bf7774" stroke-width="2.4"/>
<line x1="433.8" y1="1091.58" x2="438.8" y2="1091.58" stroke="#bf7774" stroke-width="2.4"/>
<text x="444.8" y="1096.87" font-family="'Liberation Serif', 'Times New Roman', serif" font-size="17.05" fill="#1c1c1c" text-anchor="start" textLength="15.5" lengthAdjust="spacingAndGlyphs" stroke="#1c1c1c" stroke-width="0.25">40</text>
<line x1="433.8" y1="1062.7" x2="436.3" y2="1062.7" stroke="#bf7774" stroke-width="2.4"/>
<line x1="433.8" y1="1033.82" x2="438.8" y2="1033.82" stroke="#bf7774" stroke-width="2.4"/>
<text x="444.8" y="1039.11" font-family="'Liberation Serif', 'Times New Roman', serif" font-size="17.05" fill="#1c1c1c" text-anchor="start" textLength="15.5" lengthAdjust="spacingAndGlyphs" stroke="#1c1c1c" stroke-width="0.25">60</text>
<line x1="433.8" y1="1004.94" x2="436.3" y2="1004.94" stroke="#bf7774" stroke-width="2.4"/>
<line x1="433.8" y1="976.06" x2="438.8" y2="976.06" stroke="#bf7774" stroke-width="2.4"/>
<text x="444.8" y="981.35" font-family="'Liberation Serif', 'Times New Roman', serif" font-size="17.05" fill="#1c1c1c" text-anchor="start" textLength="15.5" lengthAdjust="spacingAndGlyphs" stroke="#1c1c1c" stroke-width="0.25">80</text>
<line x1="433.8" y1="947.18" x2="436.3" y2="947.18" stroke="#bf7774" stroke-width="2.4"/>
<line x1="433.8" y1="918.3" x2="438.8" y2="918.3" stroke="#bf7774" stroke-width="2.4"/>
<text x="444.8" y="923.59" font-family="'Liberation Serif', 'Times New Roman', serif" font-size="17.05" fill="#1c1c1c" text-anchor="start" textLength="23.25" lengthAdjust="spacingAndGlyphs" stroke="#1c1c1c" stroke-width="0.25">100</text>
<line x1="433.8" y1="889.42" x2="436.3" y2="889.42" stroke="#bf7774" stroke-width="2.4"/>
<text x="60.65" y="1234.2" font-family="'Liberation Serif', 'Times New Roman', serif" font-size="21.6" fill="#141414" textLength="68.2" lengthAdjust="spacingAndGlyphs" stroke="#141414" stroke-width="0.25">Linalool</text>
<text x="156.15" y="1234.2" font-family="'Liberation Serif', 'Times New Roman', serif" font-size="21.6" fill="#141414" textLength="79.4" lengthAdjust="spacingAndGlyphs" stroke="#141414" stroke-width="0.25">Artemisia</text>
<text x="156.15" y="1260.7" font-family="'Liberation Serif', 'Times New Roman', serif" font-size="21.6" fill="#141414" textLength="56.4" lengthAdjust="spacingAndGlyphs" stroke="#141414" stroke-width="0.25">Ketone</text>
<text x="257.45" y="1234.2" font-family="'Liberation Serif', 'Times New Roman', serif" font-size="21.6" fill="#141414" textLength="77.4" lengthAdjust="spacingAndGlyphs" stroke="#141414" stroke-width="0.25">Eucalytol</text>
<text x="359.35" y="1234.2" font-family="'Liberation Serif', 'Times New Roman', serif" font-size="21.6" fill="#141414" textLength="74.3" lengthAdjust="spacingAndGlyphs" stroke="#141414" stroke-width="0.25">Camphor</text>
<text x="216.75" y="916.7" font-family="'Liberation Sans', Arial, sans-serif" font-size="18.16" fill="#111" textLength="72.3" lengthAdjust="spacingAndGlyphs" stroke="#111" stroke-width="0.3">Guangxi</text>
<text x="65.45" y="939.7" font-family="'Liberation Sans', Arial, sans-serif" font-size="14.25" fill="#10262b" textLength="25.2" lengthAdjust="spacingAndGlyphs" stroke="#10262b" stroke-width="0.3">82.6</text>
<text x="106.85" y="1153.4" font-family="'Liberation Sans', Arial, sans-serif" font-size="13.83" fill="#161616" textLength="14.7" lengthAdjust="spacingAndGlyphs" stroke="#161616" stroke-width="0.3">24</text>
<text x="171" y="1202.4" font-family="'Liberation Sans', Arial, sans-serif" font-size="14.11" fill="#161616" text-anchor="middle" stroke="#161616" stroke-width="0.3">0</text>
<text x="213.4" y="1202.4" font-family="'Liberation Sans', Arial, sans-serif" font-size="14.11" fill="#161616" text-anchor="middle" stroke="#161616" stroke-width="0.3">0</text>
<text x="256.55" y="1013.2" font-family="'Liberation Sans', Arial, sans-serif" font-size="13.69" fill="#10262b" textLength="25.1" lengthAdjust="spacingAndGlyphs" stroke="#10262b" stroke-width="0.3">60.3</text>
<text x="305.7" y="1198.6" font-family="'Liberation Sans', Arial, sans-serif" font-size="14.66" fill="#161616" text-anchor="middle" stroke="#161616" stroke-width="0.3">1</text>
<text x="365.6" y="1202.4" font-family="'Liberation Sans', Arial, sans-serif" font-size="14.11" fill="#161616" text-anchor="middle" stroke="#161616" stroke-width="0.3">0</text>
<text x="405.1" y="1198.6" font-family="'Liberation Sans', Arial, sans-serif" font-size="14.66" fill="#161616" text-anchor="middle" stroke="#161616" stroke-width="0.3">0</text>
<text x="0" y="0" transform="translate(22.1 1113.8) rotate(-90)" font-family="'Liberation Sans', Arial, sans-serif" font-size="23.74" fill="#111" textLength="149.4" lengthAdjust="spacingAndGlyphs" stroke="#111" stroke-width="0.3">Relevant content %</text>
<text x="0" y="0" transform="translate(478.2 1067.1) rotate(-90)" font-family="'Liberation Sans', Arial, sans-serif" font-size="21.23" fill="#111" textLength="60.8" lengthAdjust="spacingAndGlyphs" stroke="#111" stroke-width="0.3">Number</text>
</g>
<g>
<rect x="543.6" y="971.18" width="38.4" height="234.42" fill="#068e9e" stroke="#38454a" stroke-width="1.7"/>
<rect x="582" y="1165.79" width="36.8" height="39.81" fill="#f6b3ae" stroke="#8c6e6c" stroke-width="1.4"/>
<rect x="636.8" y="1003.48" width="38.4" height="202.12" fill="#068e9e" stroke="#38454a" stroke-width="1.7"/>
<rect x="675.2" y="1133.93" width="36.8" height="71.67" fill="#f6b3ae" stroke="#8c6e6c" stroke-width="1.4"/>
<rect x="729.7" y="1046.23" width="38.4" height="159.37" fill="#068e9e" stroke="#38454a" stroke-width="1.7"/>
<rect x="768.1" y="934.86" width="36.8" height="270.74" fill="#f6b3ae" stroke="#8c6e6c" stroke-width="1.4"/>
<rect x="824.2" y="990.32" width="38.4" height="215.28" fill="#068e9e" stroke="#38454a" stroke-width="1.7"/>
<rect x="862.6" y="1165.79" width="36.8" height="39.81" fill="#f6b3ae" stroke="#8c6e6c" stroke-width="1.4"/>
<path d="M562.8 945.47V971.18M558.8 945.47H566.8" stroke="#5a5a5a" stroke-width="1.3" fill="none"/>
<path d="M562.8 971.18V996.9M558.8 996.9H566.8" stroke="#4d5658" stroke-width="1.2" fill="none" opacity="0.45"/>
<path d="M656 1002.58V1003.48M652 1002.58H660" stroke="#5a5a5a" stroke-width="1.3" fill="none"/>
<path d="M656 1003.48V1004.37M652 1004.37H660" stroke="#4d5658" stroke-width="1.2" fill="none" opacity="0.45"/>
<path d="M843.4 990.02V990.32M839.4 990.02H847.4" stroke="#5a5a5a" stroke-width="1.3" fill="none"/>
<path d="M843.4 990.32V990.62M839.4 990.62H847.4" stroke="#4d5658" stroke-width="1.2" fill="none" opacity="0.45"/>
<line x1="533.6" y1="1205.6" x2="908.3" y2="1205.6" stroke="#161616" stroke-width="3"/>
<line x1="582" y1="1205.6" x2="582" y2="1212.6" stroke="#161616" stroke-width="2.6"/>
<line x1="675.2" y1="1205.6" x2="675.2" y2="1212.6" stroke="#161616" stroke-width="2.6"/>
<line x1="768.1" y1="1205.6" x2="768.1" y2="1212.6" stroke="#161616" stroke-width="2.6"/>
<line x1="862.6" y1="1205.6" x2="862.6" y2="1212.6" stroke="#161616" stroke-width="2.6"/>
<line x1="628.6" y1="1205.6" x2="628.6" y2="1209.6" stroke="#161616" stroke-width="2.2"/>
<line x1="721.65" y1="1205.6" x2="721.65" y2="1209.6" stroke="#161616" stroke-width="2.2"/>
<line x1="815.35" y1="1205.6" x2="815.35" y2="1209.6" stroke="#161616" stroke-width="2.2"/>
<line x1="533.6" y1="906.6" x2="533.6" y2="1207.1" stroke="#136670" stroke-width="3.4"/>
<line x1="528.6" y1="1205.6" x2="533.6" y2="1205.6" stroke="#136670" stroke-width="2.6"/>
<text x="525.1" y="1210.54" font-family="'Liberation Serif', 'Times New Roman', serif" font-size="15.95" fill="#1c1c1c" text-anchor="end" textLength="7.25" lengthAdjust="spacingAndGlyphs" stroke="#1c1c1c" stroke-width="0.25">0</text>
<line x1="531.1" y1="1175.7" x2="533.6" y2="1175.7" stroke="#136670" stroke-width="2.6"/>
<line x1="528.6" y1="1145.8" x2="533.6" y2="1145.8" stroke="#136670" stroke-width="2.6"/>
<text x="525.1" y="1150.74" font-family="'Liberation Serif', 'Times New Roman', serif" font-size="15.95" fill="#1c1c1c" text-anchor="end" textLength="14.5" lengthAdjust="spacingAndGlyphs" stroke="#1c1c1c" stroke-width="0.25">20</text>
<line x1="531.1" y1="1115.9" x2="533.6" y2="1115.9" stroke="#136670" stroke-width="2.6"/>
<line x1="528.6" y1="1086" x2="533.6" y2="1086" stroke="#136670" stroke-width="2.6"/>
<text x="525.1" y="1090.94" font-family="'Liberation Serif', 'Times New Roman', serif" font-size="15.95" fill="#1c1c1c" text-anchor="end" textLength="14.5" lengthAdjust="spacingAndGlyphs" stroke="#1c1c1c" stroke-width="0.25">40</text>
<line x1="531.1" y1="1056.1" x2="533.6" y2="1056.1" stroke="#136670" stroke-width="2.6"/>
<line x1="528.6" y1="1026.2" x2="533.6" y2="1026.2" stroke="#136670" stroke-width="2.6"/>
<text x="525.1" y="1031.14" font-family="'Liberation Serif', 'Times New Roman', serif" font-size="15.95" fill="#1c1c1c" text-anchor="end" textLength="14.5" lengthAdjust="spacingAndGlyphs" stroke="#1c1c1c" stroke-width="0.25">60</text>
<line x1="531.1" y1="996.3" x2="533.6" y2="996.3" stroke="#136670" stroke-width="2.6"/>
<line x1="528.6" y1="966.4" x2="533.6" y2="966.4" stroke="#136670" stroke-width="2.6"/>
<text x="525.1" y="971.34" font-family="'Liberation Serif', 'Times New Roman', serif" font-size="15.95" fill="#1c1c1c" text-anchor="end" textLength="14.5" lengthAdjust="spacingAndGlyphs" stroke="#1c1c1c" stroke-width="0.25">80</text>
<line x1="531.1" y1="936.5" x2="533.6" y2="936.5" stroke="#136670" stroke-width="2.6"/>
<line x1="528.6" y1="906.6" x2="533.6" y2="906.6" stroke="#136670" stroke-width="2.6"/>
<text x="525.1" y="911.54" font-family="'Liberation Serif', 'Times New Roman', serif" font-size="15.95" fill="#1c1c1c" text-anchor="end" textLength="21.75" lengthAdjust="spacingAndGlyphs" stroke="#1c1c1c" stroke-width="0.25">100</text>
<rect x="531.6" y="906.1" width="4" height="3.5" fill="#1a1a1a"/>
<line x1="908.3" y1="906.6" x2="908.3" y2="1207.1" stroke="#bf7774" stroke-width="3"/>
<rect x="906.6" y="906.1" width="3.4" height="2.5" fill="#5a4a4a"/>
<line x1="908.3" y1="1205.6" x2="913.3" y2="1205.6" stroke="#bf7774" stroke-width="2.4"/>
<text x="917.1" y="1210.37" font-family="'Liberation Serif', 'Times New Roman', serif" font-size="15.4" fill="#1c1c1c" text-anchor="start" textLength="7" lengthAdjust="spacingAndGlyphs" stroke="#1c1c1c" stroke-width="0.25">0</text>
<line x1="908.3" y1="1185.69" x2="910.8" y2="1185.69" stroke="#bf7774" stroke-width="2.4"/>
<line x1="908.3" y1="1165.79" x2="913.3" y2="1165.79" stroke="#bf7774" stroke-width="2.4"/>
<text x="917.1" y="1170.56" font-family="'Liberation Serif', 'Times New Roman', serif" font-size="15.4" fill="#1c1c1c" text-anchor="start" textLength="7" lengthAdjust="spacingAndGlyphs" stroke="#1c1c1c" stroke-width="0.25">5</text>
<line x1="908.3" y1="1145.88" x2="910.8" y2="1145.88" stroke="#bf7774" stroke-width="2.4"/>
<line x1="908.3" y1="1125.97" x2="913.3" y2="1125.97" stroke="#bf7774" stroke-width="2.4"/>
<text x="917.1" y="1130.75" font-family="'Liberation Serif', 'Times New Roman', serif" font-size="15.4" fill="#1c1c1c" text-anchor="start" textLength="14" lengthAdjust="spacingAndGlyphs" stroke="#1c1c1c" stroke-width="0.25">10</text>
<line x1="908.3" y1="1106.06" x2="910.8" y2="1106.06" stroke="#bf7774" stroke-width="2.4"/>
<line x1="908.3" y1="1086.16" x2="913.3" y2="1086.16" stroke="#bf7774" stroke-width="2.4"/>
<text x="917.1" y="1090.93" font-family="'Liberation Serif', 'Times New Roman', serif" font-size="15.4" fill="#1c1c1c" text-anchor="start" textLength="14" lengthAdjust="spacingAndGlyphs" stroke="#1c1c1c" stroke-width="0.25">15</text>
<line x1="908.3" y1="1066.25" x2="910.8" y2="1066.25" stroke="#bf7774" stroke-width="2.4"/>
<line x1="908.3" y1="1046.34" x2="913.3" y2="1046.34" stroke="#bf7774" stroke-width="2.4"/>
<text x="917.1" y="1051.12" font-family="'Liberation Serif', 'Times New Roman', serif" font-size="15.4" fill="#1c1c1c" text-anchor="start" textLength="14" lengthAdjust="spacingAndGlyphs" stroke="#1c1c1c" stroke-width="0.25">20</text>
<line x1="908.3" y1="1026.44" x2="910.8" y2="1026.44" stroke="#bf7774" stroke-width="2.4"/>
<line x1="908.3" y1="1006.53" x2="913.3" y2="1006.53" stroke="#bf7774" stroke-width="2.4"/>
<text x="917.1" y="1011.3" font-family="'Liberation Serif', 'Times New Roman', serif" font-size="15.4" fill="#1c1c1c" text-anchor="start" textLength="14" lengthAdjust="spacingAndGlyphs" stroke="#1c1c1c" stroke-width="0.25">25</text>
<line x1="908.3" y1="986.62" x2="910.8" y2="986.62" stroke="#bf7774" stroke-width="2.4"/>
<line x1="908.3" y1="966.71" x2="913.3" y2="966.71" stroke="#bf7774" stroke-width="2.4"/>
<text x="917.1" y="971.49" font-family="'Liberation Serif', 'Times New Roman', serif" font-size="15.4" fill="#1c1c1c" text-anchor="start" textLength="14" lengthAdjust="spacingAndGlyphs" stroke="#1c1c1c" stroke-width="0.25">30</text>
<line x1="908.3" y1="946.81" x2="910.8" y2="946.81" stroke="#bf7774" stroke-width="2.4"/>
<line x1="908.3" y1="926.9" x2="913.3" y2="926.9" stroke="#bf7774" stroke-width="2.4"/>
<text x="917.1" y="931.67" font-family="'Liberation Serif', 'Times New Roman', serif" font-size="15.4" fill="#1c1c1c" text-anchor="start" textLength="14" lengthAdjust="spacingAndGlyphs" stroke="#1c1c1c" stroke-width="0.25">35</text>
<line x1="908.3" y1="906.99" x2="910.8" y2="906.99" stroke="#bf7774" stroke-width="2.4"/>
<text x="545.25" y="1231.1" font-family="'Liberation Serif', 'Times New Roman', serif" font-size="21.6" fill="#141414" textLength="67.8" lengthAdjust="spacingAndGlyphs" stroke="#141414" stroke-width="0.25">Linalool</text>
<text x="640.25" y="1231.1" font-family="'Liberation Serif', 'Times New Roman', serif" font-size="21.6" fill="#141414" textLength="79.6" lengthAdjust="spacingAndGlyphs" stroke="#141414" stroke-width="0.25">Artemisia</text>
<text x="640.25" y="1256.3" font-family="'Liberation Serif', 'Times New Roman', serif" font-size="21.6" fill="#141414" textLength="57.2" lengthAdjust="spacingAndGlyphs" stroke="#141414" stroke-width="0.25">Ketone</text>
<text x="741.95" y="1231.1" font-family="'Liberation Serif', 'Times New Roman', serif" font-size="21.6" fill="#141414" textLength="77.5" lengthAdjust="spacingAndGlyphs" stroke="#141414" stroke-width="0.25">Eucalytol</text>
<text x="839.35" y="1231.1" font-family="'Liberation Serif', 'Times New Roman', serif" font-size="21.6" fill="#141414" textLength="75.4" lengthAdjust="spacingAndGlyphs" stroke="#141414" stroke-width="0.25">Camphor</text>
<text x="678.05" y="921.8" font-family="'Liberation Sans', Arial, sans-serif" font-size="18.16" fill="#111" textLength="55.1" lengthAdjust="spacingAndGlyphs" stroke="#111" stroke-width="0.3">Hunan</text>
<text x="550.35" y="1014.7" font-family="'Liberation Sans', Arial, sans-serif" font-size="14.66" fill="#10262b" textLength="23.3" lengthAdjust="spacingAndGlyphs" stroke="#10262b" stroke-width="0.3">78.4</text>
<text x="598.6" y="1183.6" font-family="'Liberation Sans', Arial, sans-serif" font-size="13.83" fill="#161616" text-anchor="middle" stroke="#161616" stroke-width="0.3">5</text>
<text x="643.25" y="1021.7" font-family="'Liberation Sans', Arial, sans-serif" font-size="15.22" fill="#10262b" textLength="24.2" lengthAdjust="spacingAndGlyphs" stroke="#10262b" stroke-width="0.3">67.6</text>
<text x="692.5" y="1149.7" font-family="'Liberation Sans', Arial, sans-serif" font-size="13.83" fill="#161616" text-anchor="middle" stroke="#161616" stroke-width="0.3">9</text>
<text x="735.85" y="1063.1" font-family="'Liberation Sans', Arial, sans-serif" font-size="14.66" fill="#10262b" textLength="24" lengthAdjust="spacingAndGlyphs" stroke="#10262b" stroke-width="0.3">53.3</text>
<text x="781.25" y="951.1" font-family="'Liberation Sans', Arial, sans-serif" font-size="14.66" fill="#161616" textLength="13.4" lengthAdjust="spacingAndGlyphs" stroke="#161616" stroke-width="0.3">34</text>
<text x="828.85" y="1010.5" font-family="'Liberation Sans', Arial, sans-serif" font-size="14.25" fill="#10262b" textLength="23.9" lengthAdjust="spacingAndGlyphs" stroke="#10262b" stroke-width="0.3">72.0</text>
<text x="880.7" y="1181.4" font-family="'Liberation Sans', Arial, sans-serif" font-size="14.11" fill="#161616" text-anchor="middle" stroke="#161616" stroke-width="0.3">5</text>
<text x="0" y="0" transform="translate(507.3 1108.3) rotate(-90)" font-family="'Liberation Sans', Arial, sans-serif" font-size="22.91" fill="#111" textLength="145.1" lengthAdjust="spacingAndGlyphs" stroke="#111" stroke-width="0.3">Relevant content %</text>
<text x="0" y="0" transform="translate(947.1 1071.9) rotate(-90)" font-family="'Liberation Sans', Arial, sans-serif" font-size="19.83" fill="#111" textLength="62.6" lengthAdjust="spacingAndGlyphs" stroke="#111" stroke-width="0.3">Number</text>
</g>
<g>
<rect x="1016.5" y="946.64" width="38.2" height="259.36" fill="#068e9e" stroke="#38454a" stroke-width="1.7"/>
<rect x="1054.7" y="1168.47" width="37.6" height="37.53" fill="#f6b3ae" stroke="#8c6e6c" stroke-width="1.4"/>
<rect x="1110.5" y="929.7" width="38.2" height="276.3" fill="#068e9e" stroke="#38454a" stroke-width="1.7"/>
<rect x="1148.7" y="1165.58" width="37.6" height="40.42" fill="#f6b3ae" stroke="#8c6e6c" stroke-width="1.4"/>
<rect x="1203.8" y="982.98" width="38.2" height="223.02" fill="#068e9e" stroke="#38454a" stroke-width="1.7"/>
<rect x="1242" y="937.51" width="37.6" height="268.49" fill="#f6b3ae" stroke="#8c6e6c" stroke-width="1.4"/>
<path d="M1035.6 939.93V946.64M1031.6 939.93H1039.6" stroke="#5a5a5a" stroke-width="1.3" fill="none"/>
<path d="M1035.6 946.64V953.34M1031.6 953.34H1039.6" stroke="#4d5658" stroke-width="1.2" fill="none" opacity="0.45"/>
<path d="M1129.6 928.29V929.7M1125.6 928.29H1133.6" stroke="#5a5a5a" stroke-width="1.3" fill="none"/>
<path d="M1129.6 929.7V931.11M1125.6 931.11H1133.6" stroke="#4d5658" stroke-width="1.2" fill="none" opacity="0.45"/>
<path d="M1222.9 981.92V982.98M1218.9 981.92H1226.9" stroke="#5a5a5a" stroke-width="1.3" fill="none"/>
<path d="M1222.9 982.98V984.04M1218.9 984.04H1226.9" stroke="#4d5658" stroke-width="1.2" fill="none" opacity="0.45"/>
<line x1="1006.9" y1="1206" x2="1383.8" y2="1206" stroke="#161616" stroke-width="3"/>
<line x1="1054.7" y1="1206" x2="1054.7" y2="1213" stroke="#161616" stroke-width="2.6"/>
<line x1="1148.7" y1="1206" x2="1148.7" y2="1213" stroke="#161616" stroke-width="2.6"/>
<line x1="1242" y1="1206" x2="1242" y2="1213" stroke="#161616" stroke-width="2.6"/>
<line x1="1336.6" y1="1206" x2="1336.6" y2="1213" stroke="#161616" stroke-width="2.6"/>
<line x1="1101.7" y1="1206" x2="1101.7" y2="1210" stroke="#161616" stroke-width="2.2"/>
<line x1="1195.35" y1="1206" x2="1195.35" y2="1210" stroke="#161616" stroke-width="2.2"/>
<line x1="1289.3" y1="1206" x2="1289.3" y2="1210" stroke="#161616" stroke-width="2.2"/>
<line x1="1006.9" y1="889.3" x2="1006.9" y2="1207.5" stroke="#136670" stroke-width="3.4"/>
<line x1="1001.9" y1="1206" x2="1006.9" y2="1206" stroke="#136670" stroke-width="2.6"/>
<text x="999" y="1212.82" font-family="'Liberation Serif', 'Times New Roman', serif" font-size="22" fill="#1c1c1c" text-anchor="end" textLength="10" lengthAdjust="spacingAndGlyphs" stroke="#1c1c1c" stroke-width="0.25">0</text>
<line x1="1004.4" y1="1170.71" x2="1006.9" y2="1170.71" stroke="#136670" stroke-width="2.6"/>
<line x1="1001.9" y1="1135.42" x2="1006.9" y2="1135.42" stroke="#136670" stroke-width="2.6"/>
<text x="999" y="1142.24" font-family="'Liberation Serif', 'Times New Roman', serif" font-size="22" fill="#1c1c1c" text-anchor="end" textLength="20" lengthAdjust="spacingAndGlyphs" stroke="#1c1c1c" stroke-width="0.25">20</text>
<line x1="1004.4" y1="1100.14" x2="1006.9" y2="1100.14" stroke="#136670" stroke-width="2.6"/>
<line x1="1001.9" y1="1064.85" x2="1006.9" y2="1064.85" stroke="#136670" stroke-width="2.6"/>
<text x="999" y="1071.67" font-family="'Liberation Serif', 'Times New Roman', serif" font-size="22" fill="#1c1c1c" text-anchor="end" textLength="20" lengthAdjust="spacingAndGlyphs" stroke="#1c1c1c" stroke-width="0.25">40</text>
<line x1="1004.4" y1="1029.56" x2="1006.9" y2="1029.56" stroke="#136670" stroke-width="2.6"/>
<line x1="1001.9" y1="994.28" x2="1006.9" y2="994.28" stroke="#136670" stroke-width="2.6"/>
<text x="999" y="1001.1" font-family="'Liberation Serif', 'Times New Roman', serif" font-size="22" fill="#1c1c1c" text-anchor="end" textLength="20" lengthAdjust="spacingAndGlyphs" stroke="#1c1c1c" stroke-width="0.25">60</text>
<line x1="1004.4" y1="958.99" x2="1006.9" y2="958.99" stroke="#136670" stroke-width="2.6"/>
<line x1="1001.9" y1="923.7" x2="1006.9" y2="923.7" stroke="#136670" stroke-width="2.6"/>
<text x="999" y="930.52" font-family="'Liberation Serif', 'Times New Roman', serif" font-size="22" fill="#1c1c1c" text-anchor="end" textLength="20" lengthAdjust="spacingAndGlyphs" stroke="#1c1c1c" stroke-width="0.25">80</text>
<line x1="1004.4" y1="888.41" x2="1006.9" y2="888.41" stroke="#136670" stroke-width="2.6"/>
<rect x="1004.9" y="888.8" width="4" height="3.5" fill="#1a1a1a"/>
<line x1="1383.8" y1="889.3" x2="1383.8" y2="1207.5" stroke="#bf7774" stroke-width="3"/>
<rect x="1382.1" y="888.8" width="3.4" height="2.5" fill="#5a4a4a"/>
<line x1="1383.8" y1="1206" x2="1388.8" y2="1206" stroke="#bf7774" stroke-width="2.4"/>
<text x="1394.8" y="1211.8" font-family="'Liberation Serif', 'Times New Roman', serif" font-size="18.7" fill="#1c1c1c" text-anchor="start" textLength="8.5" lengthAdjust="spacingAndGlyphs" stroke="#1c1c1c" stroke-width="0.25">0</text>
<line x1="1383.8" y1="1177.13" x2="1386.3" y2="1177.13" stroke="#bf7774" stroke-width="2.4"/>
<line x1="1383.8" y1="1148.26" x2="1388.8" y2="1148.26" stroke="#bf7774" stroke-width="2.4"/>
<text x="1394.8" y="1154.06" font-family="'Liberation Serif', 'Times New Roman', serif" font-size="18.7" fill="#1c1c1c" text-anchor="start" textLength="17" lengthAdjust="spacingAndGlyphs" stroke="#1c1c1c" stroke-width="0.25">20</text>
<line x1="1383.8" y1="1119.39" x2="1386.3" y2="1119.39" stroke="#bf7774" stroke-width="2.4"/>
<line x1="1383.8" y1="1090.52" x2="1388.8" y2="1090.52" stroke="#bf7774" stroke-width="2.4"/>
<text x="1394.8" y="1096.32" font-family="'Liberation Serif', 'Times New Roman', serif" font-size="18.7" fill="#1c1c1c" text-anchor="start" textLength="17" lengthAdjust="spacingAndGlyphs" stroke="#1c1c1c" stroke-width="0.25">40</text>
<line x1="1383.8" y1="1061.65" x2="1386.3" y2="1061.65" stroke="#bf7774" stroke-width="2.4"/>
<line x1="1383.8" y1="1032.78" x2="1388.8" y2="1032.78" stroke="#bf7774" stroke-width="2.4"/>
<text x="1394.8" y="1038.58" font-family="'Liberation Serif', 'Times New Roman', serif" font-size="18.7" fill="#1c1c1c" text-anchor="start" textLength="17" lengthAdjust="spacingAndGlyphs" stroke="#1c1c1c" stroke-width="0.25">60</text>
<line x1="1383.8" y1="1003.91" x2="1386.3" y2="1003.91" stroke="#bf7774" stroke-width="2.4"/>
<line x1="1383.8" y1="975.04" x2="1388.8" y2="975.04" stroke="#bf7774" stroke-width="2.4"/>
<text x="1394.8" y="980.84" font-family="'Liberation Serif', 'Times New Roman', serif" font-size="18.7" fill="#1c1c1c" text-anchor="start" textLength="17" lengthAdjust="spacingAndGlyphs" stroke="#1c1c1c" stroke-width="0.25">80</text>
<line x1="1383.8" y1="946.17" x2="1386.3" y2="946.17" stroke="#bf7774" stroke-width="2.4"/>
<line x1="1383.8" y1="917.3" x2="1388.8" y2="917.3" stroke="#bf7774" stroke-width="2.4"/>
<text x="1394.8" y="923.1" font-family="'Liberation Serif', 'Times New Roman', serif" font-size="18.7" fill="#1c1c1c" text-anchor="start" textLength="25.5" lengthAdjust="spacingAndGlyphs" stroke="#1c1c1c" stroke-width="0.25">100</text>
<line x1="1383.8" y1="888.43" x2="1386.3" y2="888.43" stroke="#bf7774" stroke-width="2.4"/>
<text x="1019.15" y="1234.3" font-family="'Liberation Serif', 'Times New Roman', serif" font-size="21.6" fill="#141414" textLength="68.2" lengthAdjust="spacingAndGlyphs" stroke="#141414" stroke-width="0.25">Linalool</text>
<text x="1113.75" y="1234.3" font-family="'Liberation Serif', 'Times New Roman', serif" font-size="21.6" fill="#141414" textLength="80" lengthAdjust="spacingAndGlyphs" stroke="#141414" stroke-width="0.25">Artemisia</text>
<text x="1113.75" y="1259.2" font-family="'Liberation Serif', 'Times New Roman', serif" font-size="21.6" fill="#141414" textLength="58" lengthAdjust="spacingAndGlyphs" stroke="#141414" stroke-width="0.25">Ketone</text>
<text x="1215.75" y="1234.3" font-family="'Liberation Serif', 'Times New Roman', serif" font-size="21.6" fill="#141414" textLength="77.1" lengthAdjust="spacingAndGlyphs" stroke="#141414" stroke-width="0.25">Eucalytol</text>
<text x="1305.55" y="1234.3" font-family="'Liberation Serif', 'Times New Roman', serif" font-size="21.6" fill="#141414" textLength="75.5" lengthAdjust="spacingAndGlyphs" stroke="#141414" stroke-width="0.25">Camphor</text>
<text x="1141.45" y="903" font-family="'Liberation Sans', Arial, sans-serif" font-size="18.99" fill="#111" textLength="99.4" lengthAdjust="spacingAndGlyphs" stroke="#111" stroke-width="0.3">Guangdong</text>
<text x="1022.35" y="983.6" font-family="'Liberation Sans', Arial, sans-serif" font-size="15.92" fill="#10262b" textLength="24.2" lengthAdjust="spacingAndGlyphs" stroke="#10262b" stroke-width="0.3">73.5</text>
<text x="1067.55" y="1195.5" font-family="'Liberation Sans', Arial, sans-serif" font-size="16.76" fill="#161616" textLength="12.5" lengthAdjust="spacingAndGlyphs" stroke="#161616" stroke-width="0.3">13</text>
<text x="1116.95" y="957.2" font-family="'Liberation Sans', Arial, sans-serif" font-size="15.5" fill="#10262b" textLength="24.6" lengthAdjust="spacingAndGlyphs" stroke="#10262b" stroke-width="0.3">78.3</text>
<text x="1159.95" y="1192.3" font-family="'Liberation Sans', Arial, sans-serif" font-size="15.5" fill="#161616" textLength="12.5" lengthAdjust="spacingAndGlyphs" stroke="#161616" stroke-width="0.3">14</text>
<text x="1210.95" y="1006.6" font-family="'Liberation Sans', Arial, sans-serif" font-size="16.34" fill="#10262b" textLength="24.5" lengthAdjust="spacingAndGlyphs" stroke="#10262b" stroke-width="0.3">63.2</text>
<text x="1253.95" y="956.6" font-family="'Liberation Sans', Arial, sans-serif" font-size="15.5" fill="#161616" textLength="13.4" lengthAdjust="spacingAndGlyphs" stroke="#161616" stroke-width="0.3">93</text>
<text x="1315.9" y="1194.9" font-family="'Liberation Sans', Arial, sans-serif" font-size="14.66" fill="#161616" text-anchor="middle" stroke="#161616" stroke-width="0.3">0</text>
<text x="1354.1" y="1194.9" font-family="'Liberation Sans', Arial, sans-serif" font-size="14.66" fill="#161616" text-anchor="middle" stroke="#161616" stroke-width="0.3">0</text>
<text x="0" y="0" transform="translate(971.3 1113.9) rotate(-90)" font-family="'Liberation Sans', Arial, sans-serif" font-size="22.77" fill="#111" textLength="150.2" lengthAdjust="spacingAndGlyphs" stroke="#111" stroke-width="0.3">Relevant content %</text>
<text x="0" y="0" transform="translate(1431.9 1071.7) rotate(-90)" font-family="'Liberation Sans', Arial, sans-serif" font-size="22.49" fill="#111" textLength="61.1" lengthAdjust="spacingAndGlyphs" stroke="#111" stroke-width="0.3">Number</text>
</g>
<g>
<rect x="1515.3" y="968.85" width="40.1" height="234.85" fill="#068e9e" stroke="#38454a" stroke-width="1.7"/>
<rect x="1555.4" y="1194.95" width="38.2" height="8.75" fill="#f6b3ae" stroke="#8c6e6c" stroke-width="1.4"/>
<rect x="1612.3" y="899" width="40.1" height="304.7" fill="#068e9e" stroke="#38454a" stroke-width="1.7"/>
<rect x="1652.4" y="1200.78" width="38.2" height="2.92" fill="#f6b3ae" stroke="#8c6e6c" stroke-width="1.4"/>
<rect x="1709.3" y="961.01" width="40.1" height="242.69" fill="#068e9e" stroke="#38454a" stroke-width="1.7"/>
<rect x="1749.4" y="1142.42" width="38.2" height="61.28" fill="#f6b3ae" stroke="#8c6e6c" stroke-width="1.4"/>
<path d="M1535.35 924.3V968.85M1531.35 924.3H1539.35" stroke="#5a5a5a" stroke-width="1.3" fill="none"/>
<path d="M1535.35 968.85V1013.4M1531.35 1013.4H1539.35" stroke="#4d5658" stroke-width="1.2" fill="none" opacity="0.45"/>
<path d="M1632.35 898.64V899M1628.35 898.64H1636.35" stroke="#5a5a5a" stroke-width="1.3" fill="none"/>
<path d="M1632.35 899V899.36M1628.35 899.36H1636.35" stroke="#4d5658" stroke-width="1.2" fill="none" opacity="0.45"/>
<line x1="1505.9" y1="1203.7" x2="1896.5" y2="1203.7" stroke="#161616" stroke-width="3"/>
<line x1="1555.4" y1="1203.7" x2="1555.4" y2="1210.7" stroke="#161616" stroke-width="2.6"/>
<line x1="1652.4" y1="1203.7" x2="1652.4" y2="1210.7" stroke="#161616" stroke-width="2.6"/>
<line x1="1749.4" y1="1203.7" x2="1749.4" y2="1210.7" stroke="#161616" stroke-width="2.6"/>
<line x1="1846.4" y1="1203.7" x2="1846.4" y2="1210.7" stroke="#161616" stroke-width="2.6"/>
<line x1="1603.9" y1="1203.7" x2="1603.9" y2="1207.7" stroke="#161616" stroke-width="2.2"/>
<line x1="1700.9" y1="1203.7" x2="1700.9" y2="1207.7" stroke="#161616" stroke-width="2.2"/>
<line x1="1797.9" y1="1203.7" x2="1797.9" y2="1207.7" stroke="#161616" stroke-width="2.2"/>
<line x1="1505.9" y1="881.8" x2="1505.9" y2="1205.2" stroke="#136670" stroke-width="3.4"/>
<line x1="1500.9" y1="1203.7" x2="1505.9" y2="1203.7" stroke="#136670" stroke-width="2.6"/>
<text x="1495.2" y="1210.38" font-family="'Liberation Serif', 'Times New Roman', serif" font-size="21.56" fill="#1c1c1c" text-anchor="end" textLength="9.8" lengthAdjust="spacingAndGlyphs" stroke="#1c1c1c" stroke-width="0.25">0</text>
<line x1="1503.4" y1="1168.06" x2="1505.9" y2="1168.06" stroke="#136670" stroke-width="2.6"/>
<line x1="1500.9" y1="1132.42" x2="1505.9" y2="1132.42" stroke="#136670" stroke-width="2.6"/>
<text x="1495.2" y="1139.11" font-family="'Liberation Serif', 'Times New Roman', serif" font-size="21.56" fill="#1c1c1c" text-anchor="end" textLength="19.6" lengthAdjust="spacingAndGlyphs" stroke="#1c1c1c" stroke-width="0.25">20</text>
<line x1="1503.4" y1="1096.79" x2="1505.9" y2="1096.79" stroke="#136670" stroke-width="2.6"/>
<line x1="1500.9" y1="1061.15" x2="1505.9" y2="1061.15" stroke="#136670" stroke-width="2.6"/>
<text x="1495.2" y="1067.83" font-family="'Liberation Serif', 'Times New Roman', serif" font-size="21.56" fill="#1c1c1c" text-anchor="end" textLength="19.6" lengthAdjust="spacingAndGlyphs" stroke="#1c1c1c" stroke-width="0.25">40</text>
<line x1="1503.4" y1="1025.51" x2="1505.9" y2="1025.51" stroke="#136670" stroke-width="2.6"/>
<line x1="1500.9" y1="989.88" x2="1505.9" y2="989.88" stroke="#136670" stroke-width="2.6"/>
<text x="1495.2" y="996.56" font-family="'Liberation Serif', 'Times New Roman', serif" font-size="21.56" fill="#1c1c1c" text-anchor="end" textLength="19.6" lengthAdjust="spacingAndGlyphs" stroke="#1c1c1c" stroke-width="0.25">60</text>
<line x1="1503.4" y1="954.24" x2="1505.9" y2="954.24" stroke="#136670" stroke-width="2.6"/>
<line x1="1500.9" y1="918.6" x2="1505.9" y2="918.6" stroke="#136670" stroke-width="2.6"/>
<text x="1495.2" y="925.28" font-family="'Liberation Serif', 'Times New Roman', serif" font-size="21.56" fill="#1c1c1c" text-anchor="end" textLength="19.6" lengthAdjust="spacingAndGlyphs" stroke="#1c1c1c" stroke-width="0.25">80</text>
<line x1="1503.4" y1="882.96" x2="1505.9" y2="882.96" stroke="#136670" stroke-width="2.6"/>
<rect x="1503.9" y="881.3" width="4" height="3.5" fill="#1a1a1a"/>
<line x1="1896.5" y1="881.8" x2="1896.5" y2="1205.2" stroke="#bf7774" stroke-width="3"/>
<rect x="1894.8" y="881.3" width="3.4" height="2.5" fill="#5a4a4a"/>
<line x1="1896.5" y1="1203.7" x2="1901.5" y2="1203.7" stroke="#bf7774" stroke-width="2.4"/>
<text x="1906.5" y="1209.84" font-family="'Liberation Serif', 'Times New Roman', serif" font-size="19.8" fill="#1c1c1c" text-anchor="start" textLength="9" lengthAdjust="spacingAndGlyphs" stroke="#1c1c1c" stroke-width="0.25">0</text>
<line x1="1896.5" y1="1174.52" x2="1899" y2="1174.52" stroke="#bf7774" stroke-width="2.4"/>
<line x1="1896.5" y1="1145.34" x2="1901.5" y2="1145.34" stroke="#bf7774" stroke-width="2.4"/>
<text x="1906.5" y="1151.48" font-family="'Liberation Serif', 'Times New Roman', serif" font-size="19.8" fill="#1c1c1c" text-anchor="start" textLength="18" lengthAdjust="spacingAndGlyphs" stroke="#1c1c1c" stroke-width="0.25">20</text>
<line x1="1896.5" y1="1116.16" x2="1899" y2="1116.16" stroke="#bf7774" stroke-width="2.4"/>
<line x1="1896.5" y1="1086.98" x2="1901.5" y2="1086.98" stroke="#bf7774" stroke-width="2.4"/>
<text x="1906.5" y="1093.12" font-family="'Liberation Serif', 'Times New Roman', serif" font-size="19.8" fill="#1c1c1c" text-anchor="start" textLength="18" lengthAdjust="spacingAndGlyphs" stroke="#1c1c1c" stroke-width="0.25">40</text>
<line x1="1896.5" y1="1057.8" x2="1899" y2="1057.8" stroke="#bf7774" stroke-width="2.4"/>
<line x1="1896.5" y1="1028.62" x2="1901.5" y2="1028.62" stroke="#bf7774" stroke-width="2.4"/>
<text x="1906.5" y="1034.76" font-family="'Liberation Serif', 'Times New Roman', serif" font-size="19.8" fill="#1c1c1c" text-anchor="start" textLength="18" lengthAdjust="spacingAndGlyphs" stroke="#1c1c1c" stroke-width="0.25">60</text>
<line x1="1896.5" y1="999.44" x2="1899" y2="999.44" stroke="#bf7774" stroke-width="2.4"/>
<line x1="1896.5" y1="970.26" x2="1901.5" y2="970.26" stroke="#bf7774" stroke-width="2.4"/>
<text x="1906.5" y="976.4" font-family="'Liberation Serif', 'Times New Roman', serif" font-size="19.8" fill="#1c1c1c" text-anchor="start" textLength="18" lengthAdjust="spacingAndGlyphs" stroke="#1c1c1c" stroke-width="0.25">80</text>
<line x1="1896.5" y1="941.08" x2="1899" y2="941.08" stroke="#bf7774" stroke-width="2.4"/>
<line x1="1896.5" y1="911.9" x2="1901.5" y2="911.9" stroke="#bf7774" stroke-width="2.4"/>
<text x="1906.5" y="918.04" font-family="'Liberation Serif', 'Times New Roman', serif" font-size="19.8" fill="#1c1c1c" text-anchor="start" textLength="27" lengthAdjust="spacingAndGlyphs" stroke="#1c1c1c" stroke-width="0.25">100</text>
<line x1="1896.5" y1="882.72" x2="1899" y2="882.72" stroke="#bf7774" stroke-width="2.4"/>
<text x="1526.45" y="1231.3" font-family="'Liberation Serif', 'Times New Roman', serif" font-size="21.6" fill="#141414" textLength="68.9" lengthAdjust="spacingAndGlyphs" stroke="#141414" stroke-width="0.25">Linalool</text>
<text x="1621.75" y="1231.3" font-family="'Liberation Serif', 'Times New Roman', serif" font-size="21.6" fill="#141414" textLength="79" lengthAdjust="spacingAndGlyphs" stroke="#141414" stroke-width="0.25">Artemisia</text>
<text x="1621.75" y="1255.7" font-family="'Liberation Serif', 'Times New Roman', serif" font-size="21.6" fill="#141414" textLength="57.9" lengthAdjust="spacingAndGlyphs" stroke="#141414" stroke-width="0.25">Ketone</text>
<text x="1723.75" y="1231.3" font-family="'Liberation Serif', 'Times New Roman', serif" font-size="21.6" fill="#141414" textLength="76.6" lengthAdjust="spacingAndGlyphs" stroke="#141414" stroke-width="0.25">Eucalytol</text>
<text x="1824.75" y="1231.3" font-family="'Liberation Serif', 'Times New Roman', serif" font-size="21.6" fill="#141414" textLength="75" lengthAdjust="spacingAndGlyphs" stroke="#141414" stroke-width="0.25">Camphor</text>
<text x="1647.55" y="873.4" font-family="'Liberation Sans', Arial, sans-serif" font-size="22.35" fill="#111" textLength="53.2" lengthAdjust="spacingAndGlyphs" stroke="#111" stroke-width="0.3">Fujian</text>
<text x="1522.05" y="1039.1" font-family="'Liberation Sans', Arial, sans-serif" font-size="17.32" fill="#10262b" textLength="25.8" lengthAdjust="spacingAndGlyphs" stroke="#10262b" stroke-width="0.3">65.9</text>
<text x="1572.8" y="1188.9" font-family="'Liberation Sans', Arial, sans-serif" font-size="15.36" fill="#161616" text-anchor="middle" stroke="#161616" stroke-width="0.3">3</text>
<text x="1618.05" y="918.3" font-family="'Liberation Sans', Arial, sans-serif" font-size="16.76" fill="#10262b" textLength="25.1" lengthAdjust="spacingAndGlyphs" stroke="#10262b" stroke-width="0.3">85.5</text>
<text x="1670.1" y="1195.6" font-family="'Liberation Sans', Arial, sans-serif" font-size="15.36" fill="#161616" text-anchor="middle" stroke="#161616" stroke-width="0.3">1</text>
<text x="1715.05" y="980.5" font-family="'Liberation Sans', Arial, sans-serif" font-size="16.2" fill="#10262b" textLength="25.1" lengthAdjust="spacingAndGlyphs" stroke="#10262b" stroke-width="0.3">68.1</text>
<text x="1762.85" y="1164.8" font-family="'Liberation Sans', Arial, sans-serif" font-size="16.76" fill="#161616" textLength="13.1" lengthAdjust="spacingAndGlyphs" stroke="#161616" stroke-width="0.3">21</text>
<text x="1829.6" y="1195.6" font-family="'Liberation Sans', Arial, sans-serif" font-size="15.36" fill="#161616" text-anchor="middle" stroke="#161616" stroke-width="0.3">0</text>
<text x="1858.7" y="1195.6" font-family="'Liberation Sans', Arial, sans-serif" font-size="15.36" fill="#161616" text-anchor="middle" stroke="#161616" stroke-width="0.3">0</text>
<text x="0" y="0" transform="translate(1472.3 1120.9) rotate(-90)" font-family="'Liberation Sans', Arial, sans-serif" font-size="24.44" fill="#111" textLength="149.4" lengthAdjust="spacingAndGlyphs" stroke="#111" stroke-width="0.3">Relevant content %</text>
<text x="0" y="0" transform="translate(1946.8 1059.7) rotate(-90)" font-family="'Liberation Sans', Arial, sans-serif" font-size="21.79" fill="#111" textLength="61.4" lengthAdjust="spacingAndGlyphs" stroke="#111" stroke-width="0.3">Number</text>
</g>
<line x1="429" y1="315.7" x2="881.1" y2="682.4" stroke="#666666" stroke-width="1.25"/>
<line x1="713" y1="345" x2="994.1" y2="676.1" stroke="#666666" stroke-width="1.25"/>
<line x1="1186.8" y1="337.1" x2="1062.4" y2="657.8" stroke="#666666" stroke-width="1.25"/>
<line x1="1492.3" y1="317.7" x2="1059.7" y2="697" stroke="#666666" stroke-width="1.25"/>
<line x1="487" y1="591" x2="923.9" y2="734.4" stroke="#666666" stroke-width="1.25"/>
<line x1="1438" y1="579.2" x2="1025.1" y2="722.5" stroke="#666666" stroke-width="1.25"/>
<line x1="301" y1="897.6" x2="935.7" y2="776.3" stroke="#666666" stroke-width="1.25"/>
<line x1="880.1" y1="893.6" x2="976.8" y2="726.2" stroke="#666666" stroke-width="1.25"/>
<line x1="1163" y1="885.5" x2="982.2" y2="784.5" stroke="#666666" stroke-width="1.25"/>
<line x1="1623.3" y1="866.1" x2="1055.1" y2="736.2" stroke="#666666" stroke-width="1.25"/>
</svg></body></html>
